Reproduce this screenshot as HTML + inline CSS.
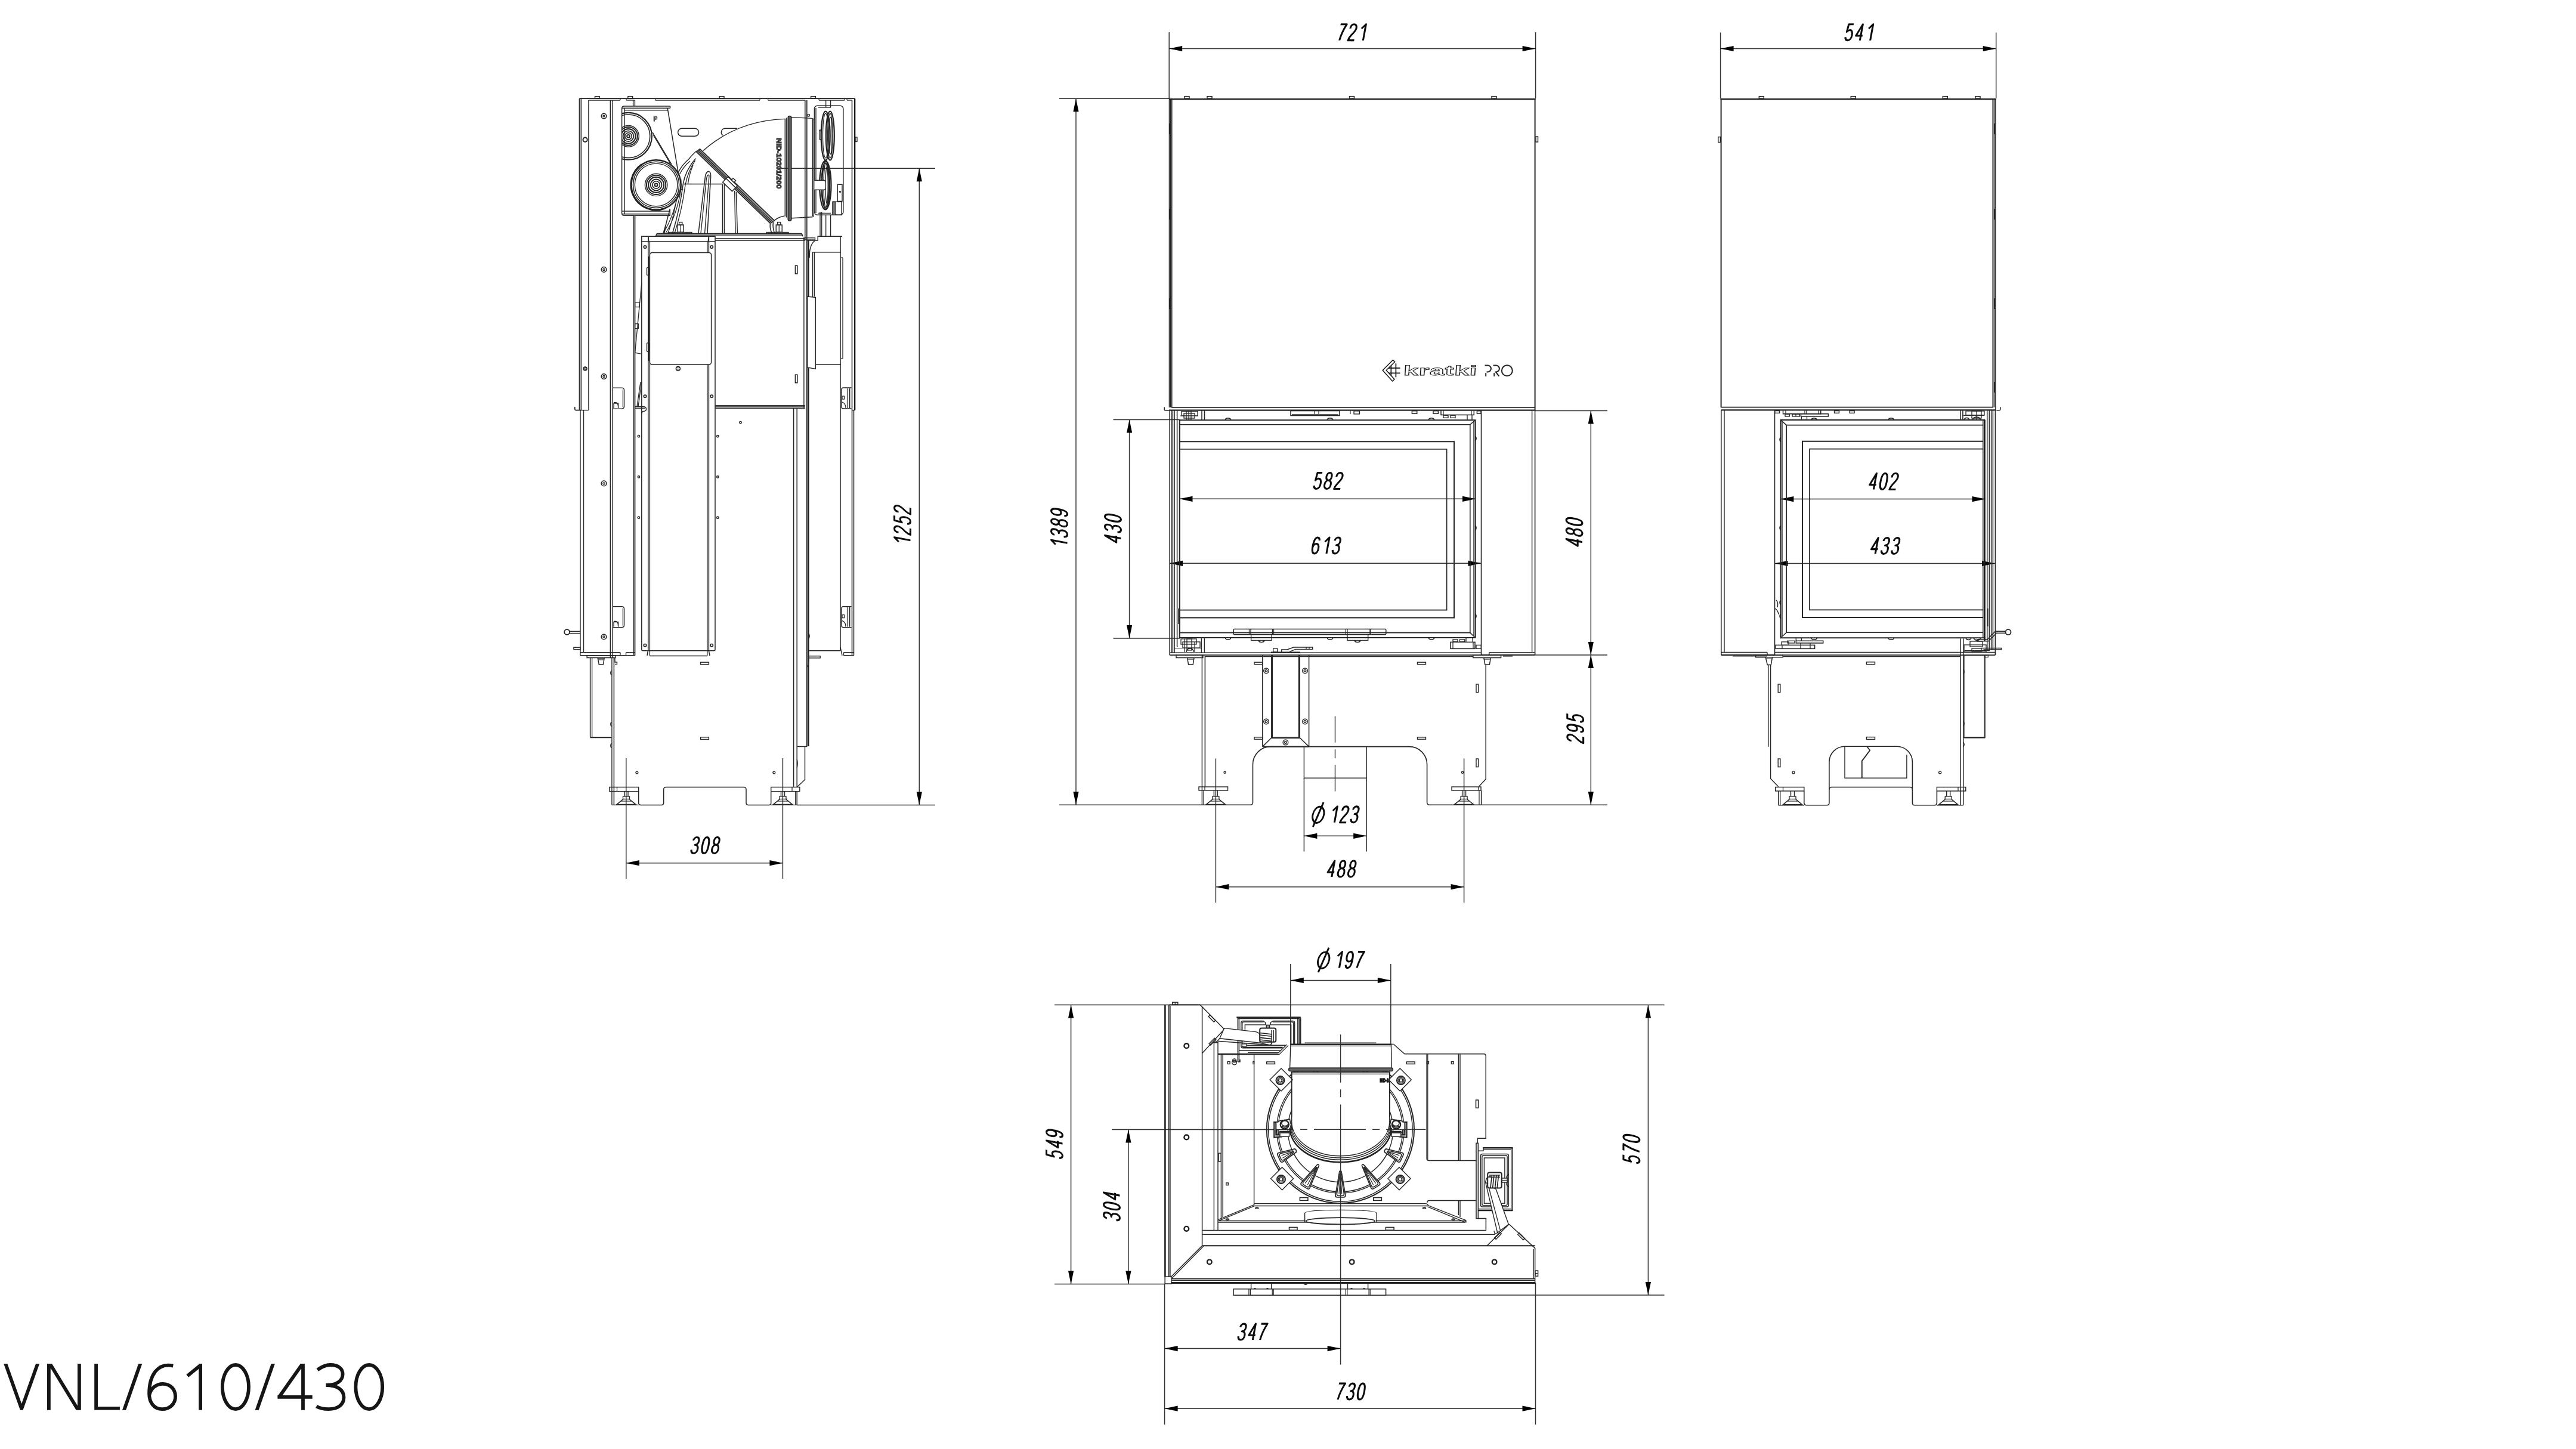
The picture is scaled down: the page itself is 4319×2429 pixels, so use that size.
<!DOCTYPE html>
<html><head><meta charset="utf-8"><title>VNL/610/430</title>
<style>
html,body{margin:0;padding:0;background:#fff}
body{width:4319px;height:2429px;overflow:hidden;font-family:"Liberation Sans",sans-serif}
svg{display:block;position:absolute;left:0;top:0}
svg .dm{stroke:#333;stroke-width:1.5}
svg .ar{fill:#000;stroke:none}
svg .dt{font-family:"Liberation Sans",sans-serif;font-style:italic;fill:#111;text-anchor:middle;stroke:none}
svg .tt{font-family:"Liberation Sans",sans-serif;fill:#111;stroke:#fff;stroke-width:3.4;paint-order:fill stroke}
</style></head><body>
<svg width="4319" height="2429" viewBox="0 0 4319 2429">
<rect x="0" y="0" width="4319" height="2429" fill="#fff" stroke="none"/>
<g fill="none" stroke="#262626" stroke-width="1.5" opacity="0.999">
<g id="p_front">
<path class="dm" d="M1960.2 54L1960.2 165"/>
<path class="dm" d="M2574.6 54L2574.6 165"/>
<path class="dm" d="M1960.2 81.5L2574.6 81.5"/>
<path class="ar" d="M1960.2 81.5L1982.2 76.9L1982.2 86.1Z"/>
<path class="ar" d="M2574.6 81.5L2552.6 86.1L2552.6 76.9Z"/>
<g transform="translate(2269.0 69.2)" fill="none" stroke="#0c0c0c" stroke-width="0.1152" stroke-linejoin="round"><path transform="translate(-26.33 0) matrix(26.900 0 -4.9856 26.900 4.986 -28.450)" d="M0 0 L.39 0 C.25 .30 .15 .62 .11 1"/><path transform="translate(-9.03 0) matrix(26.900 0 -4.9856 26.900 4.986 -28.450)" d="M.01 .26 C.01 .1 .08 0 .20 0 C.31 0 .385 .09 .385 .23 C.385 .40 .28 .50 .15 .67 C.07 .78 .02 .88 0 1 L.39 1"/><path transform="translate(8.27 0) matrix(26.900 0 -4.9856 26.900 4.986 -28.450)" d="M.07 .27 L.30 0 L.30 1"/></g>
<path class="dm" d="M1776 165.2L1960 165.2"/>
<path class="dm" d="M1776 1349.3L2015 1349.3"/>
<path class="dm" d="M1804 165.2L1804 1349.3"/>
<path class="ar" d="M1804 165.2L1808.6 187.2L1799.4 187.2Z"/>
<path class="ar" d="M1804 1349.3L1799.4 1327.3L1808.6 1327.3Z"/>
<g transform="translate(1791.0 883.0) rotate(-90)" fill="none" stroke="#0c0c0c" stroke-width="0.1152" stroke-linejoin="round"><path transform="translate(-35.35 0) matrix(26.900 0 -4.9856 26.900 4.986 -28.450)" d="M.07 .27 L.30 0 L.30 1"/><path transform="translate(-18.05 0) matrix(26.900 0 -4.9856 26.900 4.986 -28.450)" d="M.02 .20 C.05 .07 .11 0 .20 0 C.31 0 .375 .09 .375 .23 C.375 .38 .29 .47 .17 .47 C.30 .47 .39 .57 .39 .72 C.39 .89 .31 1 .19 1 C.09 1 .02 .92 0 .78"/><path transform="translate(-0.75 0) matrix(26.900 0 -4.9856 26.900 4.986 -28.450)" d="M.195 .47 C.09 .47 .03 .37 .03 .235 C.03 .10 .09 0 .195 0 C.30 0 .36 .10 .36 .235 C.36 .37 .30 .47 .195 .47 C.08 .47 0 .58 0 .735 C0 .89 .08 1 .195 1 C.31 1 .39 .89 .39 .735 C.39 .58 .31 .47 .195 .47 Z"/><path transform="translate(16.55 0) matrix(26.900 0 -4.9856 26.900 4.986 -28.450)" d="M.02 .81 C.045 .94 .105 1 .175 1 C.315 1 .38 .80 .38 .45 C.38 .15 .315 0 .185 0 C.075 0 0 .13 0 .31 C0 .49 .075 .61 .185 .61 C.285 .61 .355 .50 .38 .38"/></g>
<path class="dm" d="M1866.5 703.4L1978 703.4"/>
<path class="dm" d="M1866.5 1070L1978 1070"/>
<path class="dm" d="M1893.6 703.4L1893.6 1070"/>
<path class="ar" d="M1893.6 703.4L1898.2 725.4L1889 725.4Z"/>
<path class="ar" d="M1893.6 1070L1889 1048L1898.2 1048Z"/>
<g transform="translate(1881.0 886.0) rotate(-90)" fill="none" stroke="#0c0c0c" stroke-width="0.1152" stroke-linejoin="round"><path transform="translate(-24.68 0) matrix(26.900 0 -4.9856 26.900 4.986 -28.450)" d="M.30 1 L.30 0 L0 .71 L.41 .71"/><path transform="translate(-7.38 0) matrix(26.900 0 -4.9856 26.900 4.986 -28.450)" d="M.02 .20 C.05 .07 .11 0 .20 0 C.31 0 .375 .09 .375 .23 C.375 .38 .29 .47 .17 .47 C.30 .47 .39 .57 .39 .72 C.39 .89 .31 1 .19 1 C.09 1 .02 .92 0 .78"/><path transform="translate(9.93 0) matrix(26.900 0 -4.9856 26.900 4.986 -28.450)" d="M0 .5 C0 .2 0.06 0 0.1925 0 C0.325 0 0.385 .2 0.385 .5 C0.385 .8 0.325 1 0.1925 1 C0.06 1 0 .8 0 .5 Z"/></g>
<path class="dm" d="M2574 688.4L2695 688.4"/>
<path class="dm" d="M2574 1098L2695 1098"/>
<path class="dm" d="M2484 1349.3L2695 1349.3"/>
<path class="dm" d="M2667.3 688.4L2667.3 1098"/>
<path class="ar" d="M2667.3 688.4L2671.9 710.4L2662.7 710.4Z"/>
<path class="ar" d="M2667.3 1098L2662.7 1076L2671.9 1076Z"/>
<g transform="translate(2654.5 892.0) rotate(-90)" fill="none" stroke="#0c0c0c" stroke-width="0.1152" stroke-linejoin="round"><path transform="translate(-24.68 0) matrix(26.900 0 -4.9856 26.900 4.986 -28.450)" d="M.30 1 L.30 0 L0 .71 L.41 .71"/><path transform="translate(-7.38 0) matrix(26.900 0 -4.9856 26.900 4.986 -28.450)" d="M.195 .47 C.09 .47 .03 .37 .03 .235 C.03 .10 .09 0 .195 0 C.30 0 .36 .10 .36 .235 C.36 .37 .30 .47 .195 .47 C.08 .47 0 .58 0 .735 C0 .89 .08 1 .195 1 C.31 1 .39 .89 .39 .735 C.39 .58 .31 .47 .195 .47 Z"/><path transform="translate(9.93 0) matrix(26.900 0 -4.9856 26.900 4.986 -28.450)" d="M0 .5 C0 .2 0.06 0 0.1925 0 C0.325 0 0.385 .2 0.385 .5 C0.385 .8 0.325 1 0.1925 1 C0.06 1 0 .8 0 .5 Z"/></g>
<path class="dm" d="M2667.3 1098L2667.3 1349.3"/>
<path class="ar" d="M2667.3 1098L2671.9 1120L2662.7 1120Z"/>
<path class="ar" d="M2667.3 1349.3L2662.7 1327.3L2671.9 1327.3Z"/>
<g transform="translate(2656.2 1221.0) rotate(-90)" fill="none" stroke="#0c0c0c" stroke-width="0.1152" stroke-linejoin="round"><path transform="translate(-24.75 0) matrix(26.900 0 -4.9856 26.900 4.986 -28.450)" d="M.01 .26 C.01 .1 .08 0 .20 0 C.31 0 .385 .09 .385 .23 C.385 .40 .28 .50 .15 .67 C.07 .78 .02 .88 0 1 L.39 1"/><path transform="translate(-7.45 0) matrix(26.900 0 -4.9856 26.900 4.986 -28.450)" d="M.02 .81 C.045 .94 .105 1 .175 1 C.315 1 .38 .80 .38 .45 C.38 .15 .315 0 .185 0 C.075 0 0 .13 0 .31 C0 .49 .075 .61 .185 .61 C.285 .61 .355 .50 .38 .38"/><path transform="translate(9.85 0) matrix(26.900 0 -4.9856 26.900 4.986 -28.450)" d="M.37 0 L.07 0 L.03 .47 C.08 .40 .14 .36 .21 .36 C.32 .36 .39 .49 .39 .67 C.39 .87 .31 1 .19 1 C.09 1 .02 .93 0 .80"/></g>
<path class="dm" d="M1977.5 836.3L2474 836.3"/>
<path class="ar" d="M1977.5 836.3L1999.5 831.7L1999.5 840.9Z"/>
<path class="ar" d="M2474 836.3L2452 840.9L2452 831.7Z"/>
<g transform="translate(2227.0 821.0)" fill="none" stroke="#0c0c0c" stroke-width="0.1152" stroke-linejoin="round"><path transform="translate(-24.90 0) matrix(26.900 0 -4.9856 26.900 4.986 -28.450)" d="M.37 0 L.07 0 L.03 .47 C.08 .40 .14 .36 .21 .36 C.32 .36 .39 .49 .39 .67 C.39 .87 .31 1 .19 1 C.09 1 .02 .93 0 .80"/><path transform="translate(-7.60 0) matrix(26.900 0 -4.9856 26.900 4.986 -28.450)" d="M.195 .47 C.09 .47 .03 .37 .03 .235 C.03 .10 .09 0 .195 0 C.30 0 .36 .10 .36 .235 C.36 .37 .30 .47 .195 .47 C.08 .47 0 .58 0 .735 C0 .89 .08 1 .195 1 C.31 1 .39 .89 .39 .735 C.39 .58 .31 .47 .195 .47 Z"/><path transform="translate(9.70 0) matrix(26.900 0 -4.9856 26.900 4.986 -28.450)" d="M.01 .26 C.01 .1 .08 0 .20 0 C.31 0 .385 .09 .385 .23 C.385 .40 .28 .50 .15 .67 C.07 .78 .02 .88 0 1 L.39 1"/></g>
<path class="dm" d="M1961 944.3L2483.5 944.3"/>
<path class="ar" d="M1961 944.3L1983 939.7L1983 948.9Z"/>
<path class="ar" d="M2483.5 944.3L2461.5 948.9L2461.5 939.7Z"/>
<g transform="translate(2224.0 929.5)" fill="none" stroke="#0c0c0c" stroke-width="0.1152" stroke-linejoin="round"><path transform="translate(-25.40 0) matrix(26.900 0 -4.9856 26.900 4.986 -28.450)" d="M.365 .19 C.34 .06 .28 0 .21 0 C.07 0 .005 .2 .005 .55 C.005 .85 .07 1 .20 1 C.31 1 .385 .87 .385 .69 C.385 .51 .31 .39 .20 .39 C.10 .39 .03 .50 .005 .62"/><path transform="translate(-8.10 0) matrix(26.900 0 -4.9856 26.900 4.986 -28.450)" d="M.07 .27 L.30 0 L.30 1"/><path transform="translate(9.20 0) matrix(26.900 0 -4.9856 26.900 4.986 -28.450)" d="M.02 .20 C.05 .07 .11 0 .20 0 C.31 0 .375 .09 .375 .23 C.375 .38 .29 .47 .17 .47 C.30 .47 .39 .57 .39 .72 C.39 .89 .31 1 .19 1 C.09 1 .02 .92 0 .78"/></g>
<path class="dm" d="M2186.4 1304L2186.4 1427.5"/>
<path class="dm" d="M2291.2 1304L2291.2 1427.5"/>
<path class="dm" d="M2186.4 1401.3L2291.2 1401.3"/>
<path class="ar" d="M2186.4 1401.3L2208.4 1396.7L2208.4 1405.9Z"/>
<path class="ar" d="M2291.2 1401.3L2269.2 1405.9L2269.2 1396.7Z"/>
<g transform="translate(2256.3 1380.3)" fill="none" stroke="#0c0c0c" stroke-width="0.1152" stroke-linejoin="round"><path transform="translate(-27.00 0) matrix(26.900 0 -4.9856 26.900 4.986 -28.450)" d="M.07 .27 L.30 0 L.30 1"/><path transform="translate(-9.70 0) matrix(26.900 0 -4.9856 26.900 4.986 -28.450)" d="M.01 .26 C.01 .1 .08 0 .20 0 C.31 0 .385 .09 .385 .23 C.385 .40 .28 .50 .15 .67 C.07 .78 .02 .88 0 1 L.39 1"/><path transform="translate(7.60 0) matrix(26.900 0 -4.9856 26.900 4.986 -28.450)" d="M.02 .20 C.05 .07 .11 0 .20 0 C.31 0 .375 .09 .375 .23 C.375 .38 .29 .47 .17 .47 C.30 .47 .39 .57 .39 .72 C.39 .89 .31 1 .19 1 C.09 1 .02 .92 0 .78"/></g>
<g fill="none" stroke="#0c0c0c" stroke-width="2.9"><ellipse cx="0" cy="0" rx="9.3" ry="13.6" transform="translate(2210.3 1365.9) skewX(-11)"/><path d="M2201.3 1386.1L2219.1 1344.9"/></g>
<path class="dm" d="M2038.4 1271.5L2038.4 1513"/>
<path class="dm" d="M2454.6 1271.5L2454.6 1513"/>
<path class="dm" d="M2038.4 1486.7L2454.6 1486.7"/>
<path class="ar" d="M2038.4 1486.7L2060.4 1482.1L2060.4 1491.3Z"/>
<path class="ar" d="M2454.6 1486.7L2432.6 1491.3L2432.6 1482.1Z"/>
<g transform="translate(2249.5 1471.5)" fill="none" stroke="#0c0c0c" stroke-width="0.1152" stroke-linejoin="round"><path transform="translate(-24.77 0) matrix(26.900 0 -4.9856 26.900 4.986 -28.450)" d="M.30 1 L.30 0 L0 .71 L.41 .71"/><path transform="translate(-7.47 0) matrix(26.900 0 -4.9856 26.900 4.986 -28.450)" d="M.195 .47 C.09 .47 .03 .37 .03 .235 C.03 .10 .09 0 .195 0 C.30 0 .36 .10 .36 .235 C.36 .37 .30 .47 .195 .47 C.08 .47 0 .58 0 .735 C0 .89 .08 1 .195 1 C.31 1 .39 .89 .39 .735 C.39 .58 .31 .47 .195 .47 Z"/><path transform="translate(9.83 0) matrix(26.900 0 -4.9856 26.900 4.986 -28.450)" d="M.195 .47 C.09 .47 .03 .37 .03 .235 C.03 .10 .09 0 .195 0 C.30 0 .36 .10 .36 .235 C.36 .37 .30 .47 .195 .47 C.08 .47 0 .58 0 .735 C0 .89 .08 1 .195 1 C.31 1 .39 .89 .39 .735 C.39 .58 .31 .47 .195 .47 Z"/></g>
<path d="M1960 166.3L2574.6 166.3" stroke-width="2.6"/>
<path d="M1960.4 166L1960.4 683" stroke-width="1.4"/>
<path d="M1962.6 166L1962.6 683" stroke-width="1.8" stroke="#222"/>
<path d="M1964.8 166L1964.8 683" stroke-width="1.42"/>
<path d="M2573.6 166L2573.6 688" stroke-width="2.0"/>
<path d="M1964 682.8L2573.6 682.8" stroke-width="1.8"/>
<path d="M1960 687.6L2573.6 687.6" stroke-width="2.2"/>
<rect x="1986" y="161.6" width="8" height="3.4" stroke-width="1.42"/>
<rect x="2024" y="161.6" width="8" height="3.4" stroke-width="1.42"/>
<rect x="2262.5" y="161.6" width="8" height="3.4" stroke-width="1.42"/>
<rect x="2501" y="161.6" width="8" height="3.4" stroke-width="1.42"/>
<rect x="2575" y="229" width="3.5" height="9" stroke-width="1.42"/>
<path d="M1952.3 682.5V686.5Q1952.3 688 1954 688H1960" stroke-width="1.6"/>
<path d="M1961.5 207L1961.5 225" stroke-width="1.22"/>
<path d="M1961.5 350L1961.5 368" stroke-width="1.22"/>
<path d="M1961.5 500L1961.5 518" stroke-width="1.22"/>
<path d="M1961.1 688L1961.1 1094" stroke-width="1.5"/>
<path d="M1963.8 688L1963.8 1094" stroke-width="1.52"/>
<path d="M1966.4 688L1966.4 1094" stroke-width="1.52"/>
<path d="M1969.2 688L1969.2 1094" stroke-width="1.42"/>
<path d="M1973.6 688L1973.6 1085" stroke-width="1.52"/>
<path d="M1977.8 704L1977.8 1069" stroke-width="2.2"/>
<path d="M1977.8 704.2L2473.6 704.2L2473.6 1069L1977.8 1069" stroke-width="2.0"/>
<path d="M1978.5 711.8L2464.8 711.8L2464.8 1060.6L1978.5 1060.6" stroke-width="1.6"/>
<path d="M2464.8 711.8L2473.6 704.2"/>
<path d="M2464.8 1060.6L2473.6 1069"/>
<path d="M2471 706L2471 1067" stroke-width="1.42"/>
<path d="M1979 740.2L2438 740.2L2438 1035.5L1979 1035.5" stroke-width="2.0"/>
<path d="M1979 753L2425.6 753L2425.6 1022.6L1979 1022.6" stroke-width="1.7"/>
<path d="M1975.8 1020L1975.8 1046" stroke-width="1.42"/>
<path d="M2473.6 731 q3 4 0 8" stroke-width="1.52"/>
<path d="M2473.6 881 q3 4 0 8" stroke-width="1.52"/>
<path d="M2473.6 1029 q3 4 0 8" stroke-width="1.52"/>
<path d="M2054 704 q1 -3 4 -3 h2 q3 0 4 3" stroke-width="1.4"/>
<path d="M2054 1069 q1 3 4 3 h2 q3 0 4 -3" stroke-width="1.4"/>
<path d="M2225 704 q1 -3 4 -3 h2 q3 0 4 3" stroke-width="1.4"/>
<path d="M2225 1069 q1 3 4 3 h2 q3 0 4 -3" stroke-width="1.4"/>
<path d="M2395 704 q1 -3 4 -3 h2 q3 0 4 3" stroke-width="1.4"/>
<path d="M2395 1069 q1 3 4 3 h2 q3 0 4 -3" stroke-width="1.4"/>
<path d="M2015 688L2015 704" stroke-width="1.52"/>
<path d="M2019.5 688L2019.5 704" stroke-width="1.52"/>
<rect x="1981" y="689.5" width="27" height="7.5" stroke-width="1.32"/>
<rect x="1985" y="693" width="18" height="8" stroke-width="1.32"/>
<rect x="1989" y="689.5" width="8" height="14.5" stroke-width="1.32"/>
<path d="M1979 697.2L2009 697.2" stroke-width="1.22"/>
<path d="M1993 689L1993 704" stroke-width="1.22"/>
<rect x="2164" y="688.6" width="82" height="8" stroke-width="1.52"/>
<path d="M2166 694.5L2244 694.5" stroke-width="1.22"/>
<path d="M2204 689L2204 695" stroke-width="1.22"/>
<path d="M2211 689L2211 695" stroke-width="1.22"/>
<path d="M2264 688L2264 694" stroke-width="1.22"/>
<rect x="2270" y="689" width="9.5" height="5" stroke-width="1.32"/>
<rect x="2367.4" y="688.8" width="8.4" height="4.6" stroke-width="1.42"/>
<rect x="2403" y="688.8" width="8.4" height="4.6" stroke-width="1.42"/>
<rect x="2476.4" y="688.8" width="6.6" height="4.6" stroke-width="1.42"/>
<path d="M2416 688L2416 695.6L2471.3 695.6L2471.3 688" stroke-width="1.52"/>
<path d="M2420 688L2420 695.6" stroke-width="1.22"/>
<path d="M2467 688L2467 695.6" stroke-width="1.22"/>
<rect x="2420" y="696.3" width="8" height="4.1" stroke-width="1.32"/>
<rect x="2432" y="696.3" width="8" height="4.1" stroke-width="1.32"/>
<path d="M2460 695.6L2460 704" stroke-width="1.42"/>
<path d="M2468 695.6L2468 704" stroke-width="1.42"/>
<path d="M2483.5 688L2483.5 1098" stroke-width="1.6"/>
<path d="M2568.6 688L2568.6 1093.6" stroke-width="1.4"/>
<path d="M2573.6 688L2573.6 1098" stroke-width="1.6"/>
<path d="M2496.7 1093.6L2573.6 1093.6" stroke-width="1.4"/>
<path d="M2496.7 1093.6L2496.7 1098" stroke-width="1.52"/>
<path d="M2483.5 1098L2573.6 1098" stroke-width="2.2"/>
<path d="M2520 1100L2536 1100" stroke-width="1.22"/>
<path d="M1961.1 1094.2L2483.5 1094.2" stroke-width="1.5"/>
<path d="M1961.1 1098.2L2483.5 1098.2" stroke-width="1.7"/>
<path d="M2020 1100.6L2470 1100.6" stroke-width="1.22"/>
<path d="M1961.1 1094L1961.1 1098.2" stroke-width="1.5"/>
<path d="M2014.4 1069L2014.4 1094" stroke-width="1.42"/>
<path d="M2019.4 1069L2019.4 1094" stroke-width="1.42"/>
<rect x="2068.2" y="1054.6" width="255.6" height="9.2" rx="1.5" stroke-width="1.5"/>
<path d="M2094.4 1054.6L2094.4 1063.8" stroke-width="1.22"/>
<path d="M2097 1054.6L2097 1063.8" stroke-width="1.22"/>
<path d="M2133.4 1054.6L2133.4 1063.8" stroke-width="1.22"/>
<path d="M2135.6 1054.6L2135.6 1063.8" stroke-width="1.22"/>
<path d="M2256.4 1054.6L2256.4 1063.8" stroke-width="1.22"/>
<path d="M2259 1054.6L2259 1063.8" stroke-width="1.22"/>
<path d="M2295.6 1054.6L2295.6 1063.8" stroke-width="1.22"/>
<path d="M2297.6 1054.6L2297.6 1063.8" stroke-width="1.22"/>
<path d="M2097.6 1063.8L2097.6 1073.4L2132.2 1073.4L2132.2 1063.8" stroke-width="1.4"/>
<path d="M2259 1063.8L2259 1073.4L2293.7 1073.4L2293.7 1063.8" stroke-width="1.4"/>
<path d="M2110 1073.4q1 3 4 3h2q3 0 4 -3" stroke-width="1.52"/>
<path d="M2271 1073.4q1 3 4 3h2q3 0 4 -3" stroke-width="1.52"/>
<rect x="1980" y="1071" width="26" height="9" stroke-width="1.32"/>
<rect x="1983" y="1076" width="29" height="10" stroke-width="1.32"/>
<rect x="1990" y="1071" width="8" height="19" stroke-width="1.32"/>
<path d="M1968 1086.5L2014 1086.5" stroke-width="1.22"/>
<path d="M1986 1071L1986 1093" stroke-width="1.22"/>
<path d="M2003 1076L2003 1093" stroke-width="1.22"/>
<path d="M1989 1093q1 -6 6 -6q5 0 7 6" stroke-width="1.42"/>
<rect x="2134.7" y="1087" width="7.1" height="6" stroke-width="1.32"/>
<path d="M2131 1093.2L2180 1093.2" stroke-width="1.42"/>
<path d="M2148.8 1093L2148.8 1089L2158 1089L2169 1085L2200.7 1085L2200.7 1088.4L2172 1088.4L2162 1092.6" stroke-width="1.42"/>
<path d="M2190 1085L2190 1088.4" stroke-width="1.22"/>
<path d="M2195 1085L2195 1088.4" stroke-width="1.22"/>
<rect x="2436" y="1072" width="8" height="3.8" stroke-width="1.32"/>
<rect x="2447.4" y="1072" width="8.4" height="3.8" stroke-width="1.32"/>
<rect x="2432" y="1076.4" width="41" height="11" stroke-width="1.52"/>
<path d="M2436 1076.4L2436 1087.4" stroke-width="1.22"/>
<path d="M2470 1076.4L2470 1087.4" stroke-width="1.22"/>
<path d="M2458 1069L2458 1076.4" stroke-width="1.32"/>
<path d="M2469 1069L2469 1076.4" stroke-width="1.32"/>
<rect x="2475" y="1081.4" width="8.3" height="6" stroke-width="1.32"/>
<rect x="1972" y="1098.4" width="44.9" height="4.2" stroke-width="1.42"/>
<path d="M1990.6 1102.6L1992.6 1114L2000.2 1114L2002 1102.6" stroke-width="1.52"/>
<path d="M1991 1105L2001.6 1105" stroke-width="1.22"/>
<rect x="2469.8" y="1098.4" width="46.8" height="4.2" stroke-width="1.42"/>
<path d="M2487.8 1102.6L2489.8 1114L2497.4 1114L2499.3 1102.6" stroke-width="1.52"/>
<path d="M2488.3 1105L2499 1105" stroke-width="1.22"/>
<path d="M2015.4 1098.4L2015.4 1349" stroke-width="1.4"/>
<path d="M2020.4 1100L2020.4 1319" stroke-width="1.52"/>
<path d="M2491.2 1114L2491.2 1306L2479.5 1318.4" stroke-width="1.5"/>
<path d="M2016 1349.3H2096.5A4 4 0 0 0 2100.5 1345.3V1281.4A29.8 29.8 0 0 1 2130.3 1251.6H2362.8A29.8 29.8 0 0 1 2392.6 1281.4V1345.3A4 4 0 0 0 2396.6 1349.3H2483.6" stroke-width="1.6"/>
<path d="M2483.6 1325L2483.6 1349.3" stroke-width="1.52"/>
<path d="M2480 1325L2480 1349.3" stroke-width="1.22"/>
<path d="M2018 1325L2018 1349.3" stroke-width="1.22"/>
<path d="M2116.8 1098.4L2116.8 1251.6" stroke-width="1.5"/>
<path d="M2132.6 1098.4L2132.6 1236.6" stroke-width="3.0" stroke="#222"/>
<path d="M2178.4 1098.4L2178.4 1236.6" stroke-width="3.0" stroke="#222"/>
<path d="M2194.6 1098.4L2194.6 1251.6" stroke-width="1.5"/>
<path d="M2131.2 1236.8L2179.8 1236.8" stroke-width="2.6" stroke="#222"/>
<path d="M2116.8 1251.6L2194.6 1251.6" stroke-width="1.8"/>
<path d="M2131.6 1237L2116.8 1251.6"/>
<path d="M2179.6 1237L2194.6 1251.6"/>
<circle cx="2123" cy="1124.4" r="4.3" stroke-width="1.42"/>
<circle cx="2123" cy="1124.4" r="1.8" stroke-width="1.4"/>
<circle cx="2188" cy="1124.4" r="4.3" stroke-width="1.42"/>
<circle cx="2188" cy="1124.4" r="1.8" stroke-width="1.4"/>
<circle cx="2123" cy="1209.6" r="4.3" stroke-width="1.42"/>
<circle cx="2123" cy="1209.6" r="1.8" stroke-width="1.4"/>
<circle cx="2188" cy="1209.6" r="4.3" stroke-width="1.42"/>
<circle cx="2188" cy="1209.6" r="1.8" stroke-width="1.4"/>
<circle cx="2155.4" cy="1244.6" r="4.3" stroke-width="1.42"/>
<circle cx="2155.4" cy="1244.6" r="1.8" stroke-width="1.4"/>
<rect x="2103" y="1110.2" width="13.8" height="3.4" stroke-width="1.42"/>
<rect x="2103" y="1235.8" width="13.8" height="3.4" stroke-width="1.42"/>
<rect x="2376.5" y="1110.2" width="14" height="3.4" stroke-width="1.42"/>
<rect x="2376.5" y="1235.8" width="14" height="3.4" stroke-width="1.42"/>
<rect x="2475" y="1147" width="3.6" height="13.6" stroke-width="1.42"/>
<rect x="2475" y="1272" width="3.6" height="13.6" stroke-width="1.42"/>
<circle cx="2053.6" cy="1294.8" r="1.6" stroke-width="1.32"/>
<circle cx="2452" cy="1294.8" r="1.6" stroke-width="1.32"/>
<path d="M2186.4 1251.2L2186.4 1304.3" stroke-width="1.4"/>
<path d="M2291.2 1251.2L2291.2 1304.3" stroke-width="1.4"/>
<path d="M2186.4 1304.3L2291.2 1304.3" stroke-width="1.4"/>
<path d="M2238.5 1200.5L2238.5 1326.4" stroke-width="1.4" stroke="#333" stroke-dasharray="44.2 11.5 15 11"/>
<rect x="2010" y="1319" width="48.6" height="6" stroke-width="1.4"/>
<path d="M2035.4 1325L2035.4 1335" stroke-width="1.42"/>
<path d="M2041.4 1325L2041.4 1335" stroke-width="1.42"/>
<rect x="2032.9" y="1335" width="11" height="4.5" stroke-width="1.32"/>
<path d="M2033.4 1339.5L2022.4 1348.6L2054.4 1348.6L2043.4 1339.5" stroke-width="1.52"/>
<path d="M2029.4 1343L2047.4 1343" stroke-width="1.22"/>
<rect x="2434" y="1319" width="49" height="6" stroke-width="1.4"/>
<path d="M2451.6 1325L2451.6 1335" stroke-width="1.42"/>
<path d="M2457.6 1325L2457.6 1335" stroke-width="1.42"/>
<rect x="2449.1" y="1335" width="11" height="4.5" stroke-width="1.32"/>
<path d="M2449.6 1339.5L2438.6 1348.6L2470.6 1348.6L2459.6 1339.5" stroke-width="1.52"/>
<path d="M2445.6 1343L2463.6 1343" stroke-width="1.22"/>
<path d="M2020 1319L2020 1325" stroke-width="1.22"/>
<path d="M2478.5 1319L2478.5 1325" stroke-width="1.22"/>
<path d="M2332.3 609.2L2332.3 632.4" stroke-width="1.7" stroke="#111"/>
<path d="M2340.4 609.2L2340.4 632.4" stroke-width="1.7" stroke="#111"/>
<path d="M2323.7 617L2347.5 617" stroke-width="1.7" stroke="#111"/>
<path d="M2323.7 625.4L2347.5 625.4" stroke-width="1.7" stroke="#111"/>
<path d="M2335.4 603.6L2318.2 620.8L2334.6 639L2338 635.8L2324.2 620.8L2338.6 606.6Z" stroke-width="1.42" stroke="#111" fill="#fff"/>
<text transform="translate(2352.6 629.4) skewX(-4) scale(1.96 1)" style="font-family:'Liberation Sans',sans-serif;font-weight:bold;font-size:23px;fill:#fff;stroke:#111;stroke-width:1.25;vector-effect:non-scaling-stroke;letter-spacing:.3px">kratki</text>
<path d="M2489.6 612.6H2494.5A5.4 5.4 0 0 1 2494.5 623.4H2492.5M2491.2 625.2V631" stroke-width="2.0" stroke="#222"/>
<path d="M2503.6 612.6H2508.5A5.4 5.4 0 0 1 2508.5 623.4H2506.5M2505.2 625.2V631M2508.2 623.8L2513.2 630.6" stroke-width="2.0" stroke="#222"/>
<circle cx="2526.8" cy="621.3" r="9" stroke="#222" stroke-width="2.0"/>
</g>
<g id="p_left">
<path class="dm" d="M1049.8 1271L1049.8 1473"/>
<path class="dm" d="M1312.4 1271L1312.4 1473"/>
<path class="dm" d="M1049.8 1446.7L1312.4 1446.7"/>
<path class="ar" d="M1049.8 1446.7L1071.8 1442.1L1071.8 1451.3Z"/>
<path class="ar" d="M1312.4 1446.7L1290.4 1451.3L1290.4 1442.1Z"/>
<g transform="translate(1182.5 1432.0)" fill="none" stroke="#0c0c0c" stroke-width="0.1152" stroke-linejoin="round"><path transform="translate(-24.60 0) matrix(26.900 0 -4.9856 26.900 4.986 -28.450)" d="M.02 .20 C.05 .07 .11 0 .20 0 C.31 0 .375 .09 .375 .23 C.375 .38 .29 .47 .17 .47 C.30 .47 .39 .57 .39 .72 C.39 .89 .31 1 .19 1 C.09 1 .02 .92 0 .78"/><path transform="translate(-7.30 0) matrix(26.900 0 -4.9856 26.900 4.986 -28.450)" d="M0 .5 C0 .2 0.06 0 0.1925 0 C0.325 0 0.385 .2 0.385 .5 C0.385 .8 0.325 1 0.1925 1 C0.06 1 0 .8 0 .5 Z"/><path transform="translate(10.00 0) matrix(26.900 0 -4.9856 26.900 4.986 -28.450)" d="M.195 .47 C.09 .47 .03 .37 .03 .235 C.03 .10 .09 0 .195 0 C.30 0 .36 .10 .36 .235 C.36 .37 .30 .47 .195 .47 C.08 .47 0 .58 0 .735 C0 .89 .08 1 .195 1 C.31 1 .39 .89 .39 .735 C.39 .58 .31 .47 .195 .47 Z"/></g>
<path class="dm" d="M1310 282.2L1568 282.2"/>
<path class="dm" d="M1336 1349.4L1568 1349.4"/>
<path class="dm" d="M1541.3 282.2L1541.3 1349.4"/>
<path class="ar" d="M1541.3 282.2L1545.9 304.2L1536.7 304.2Z"/>
<path class="ar" d="M1541.3 1349.4L1536.7 1327.4L1545.9 1327.4Z"/>
<g transform="translate(1528.0 878.0) rotate(-90)" fill="none" stroke="#0c0c0c" stroke-width="0.1152" stroke-linejoin="round"><path transform="translate(-35.80 0) matrix(26.900 0 -4.9856 26.900 4.986 -28.450)" d="M.07 .27 L.30 0 L.30 1"/><path transform="translate(-18.50 0) matrix(26.900 0 -4.9856 26.900 4.986 -28.450)" d="M.01 .26 C.01 .1 .08 0 .20 0 C.31 0 .385 .09 .385 .23 C.385 .40 .28 .50 .15 .67 C.07 .78 .02 .88 0 1 L.39 1"/><path transform="translate(-1.20 0) matrix(26.900 0 -4.9856 26.900 4.986 -28.450)" d="M.37 0 L.07 0 L.03 .47 C.08 .40 .14 .36 .21 .36 C.32 .36 .39 .49 .39 .67 C.39 .87 .31 1 .19 1 C.09 1 .02 .93 0 .80"/><path transform="translate(16.10 0) matrix(26.900 0 -4.9856 26.900 4.986 -28.450)" d="M.01 .26 C.01 .1 .08 0 .20 0 C.31 0 .385 .09 .385 .23 C.385 .40 .28 .50 .15 .67 C.07 .78 .02 .88 0 1 L.39 1"/></g>
<path d="M971.4 165.2L1433.3 165.2" stroke-width="1.8"/>
<path d="M986.9 167.9L1040 167.9" stroke-width="1.52"/>
<path d="M1050 167.9L1064.5 167.9" stroke-width="1.52"/>
<path d="M1098.5 167.9L1274 167.9" stroke-width="1.52"/>
<path d="M1287.7 167.9L1349.8 167.9" stroke-width="1.52"/>
<path d="M1373 167.9L1416 167.9" stroke-width="1.52"/>
<path d="M1420 167.9L1428.5 167.9" stroke-width="1.52"/>
<path d="M1040 165.2L1040 167.9" stroke-width="1.22"/>
<path d="M1050 165.2L1050 167.9" stroke-width="1.22"/>
<path d="M1098.5 165.2L1098.5 167.9" stroke-width="1.22"/>
<path d="M1274 165.2L1274 167.9" stroke-width="1.22"/>
<path d="M1287.7 165.2L1287.7 167.9" stroke-width="1.22"/>
<path d="M1373 165.2L1373 167.9" stroke-width="1.22"/>
<path d="M1416 165.2L1416 167.9" stroke-width="1.22"/>
<path d="M1420 165.2L1420 167.9" stroke-width="1.22"/>
<rect x="997.5" y="161.6" width="7.8" height="3.4" stroke-width="1.32"/>
<rect x="1052.8" y="161.6" width="7.8" height="3.4" stroke-width="1.32"/>
<rect x="1206.2" y="161.6" width="7.8" height="3.4" stroke-width="1.32"/>
<rect x="1359.6" y="161.6" width="7.8" height="3.4" stroke-width="1.32"/>
<path d="M971.4 165.2L971.4 687.6" stroke-width="1.5"/>
<path d="M974.3 165.2L974.3 687.6" stroke-width="1.52"/>
<path d="M986.9 168L986.9 687.6" stroke-width="1.4"/>
<path d="M974.3 687.6L986.9 687.6" stroke-width="1.4"/>
<path d="M974.3 687.6H965.5Q963.8 687.6 963.8 686V682" stroke-width="1.6"/>
<path d="M973 687.6L973 1093.8" stroke-width="1.4"/>
<path d="M978.5 687.6L978.5 1093.8" stroke-width="1.4"/>
<path d="M1023.4 168L1023.4 1102" stroke-width="1.6"/>
<path d="M1027.3 168L1027.3 1102" stroke-width="1.5"/>
<path d="M1025.9 1102L1025.9 1349.4" stroke-width="1.4"/>
<path d="M1062.6 361L1062.6 1098.8" stroke-width="1.52"/>
<path d="M1064.6 361L1064.6 1098.8" stroke-width="1.52"/>
<path d="M1061.6 168L1061.6 178" stroke-width="1.42"/>
<path d="M1064.4 168L1064.4 178" stroke-width="1.42"/>
<path d="M1433.1 165.2L1433.1 687.6" stroke-width="2.4" stroke="#1a1a1a"/>
<path d="M1428.5 168L1428.5 1098.8" stroke-width="1.5"/>
<path d="M1431.5 687.6L1431.5 1098.8" stroke-width="1.52"/>
<path d="M1428.5 687.6L1433.3 687.6" stroke-width="1.42"/>
<path d="M1349.8 168L1349.8 403" stroke-width="1.52"/>
<path d="M1352.8 168L1352.8 1251.5" stroke-width="1.6"/>
<path d="M1355.4 403L1355.4 1251" stroke-width="2.4" stroke="#1a1a1a"/>
<path d="M1384.7 168L1384.7 180" stroke-width="1.32"/>
<path d="M1392.6 168L1392.6 180" stroke-width="1.32"/>
<path d="M1375 355L1375 396" stroke-width="1.32"/>
<path d="M1377.7 355L1377.7 396" stroke-width="1.32"/>
<path d="M1384.7 360.3L1384.7 396" stroke-width="1.32"/>
<path d="M1392.6 360.3L1392.6 396" stroke-width="1.32"/>
<rect x="1434" y="230" width="3" height="7.5" stroke-width="1.32"/>
<circle cx="1012.5" cy="194.6" r="4.3" stroke-width="1.52"/>
<circle cx="1012.5" cy="194.6" r="1.6" stroke-width="1.32"/>
<circle cx="1012.5" cy="451.9" r="4.3" stroke-width="1.52"/>
<circle cx="1012.5" cy="451.9" r="1.6" stroke-width="1.32"/>
<circle cx="1012.5" cy="631.1" r="4.3" stroke-width="1.52"/>
<circle cx="1012.5" cy="631.1" r="1.6" stroke-width="1.32"/>
<circle cx="1012.5" cy="810.4" r="4.3" stroke-width="1.52"/>
<circle cx="1012.5" cy="810.4" r="1.6" stroke-width="1.32"/>
<circle cx="1012.5" cy="1067.5" r="4.3" stroke-width="1.52"/>
<circle cx="1012.5" cy="1067.5" r="1.6" stroke-width="1.32"/>
<circle cx="981.1" cy="234.2" r="3.6" stroke-width="2.0"/>
<circle cx="981.1" cy="617.9" r="3" stroke-width="1.52"/>
<circle cx="981.1" cy="617.9" r="1.4" stroke-width="1.22"/>
<path d="M1123.6 178H1046.6Q1042.6 178 1042.6 182V357.3Q1042.6 361.3 1046.6 361.3H1123.3V350" stroke-width="1.5"/>
<path d="M1047 181L1047 358.8" stroke-width="1.42"/>
<path d="M1042.6 181.3L1123.6 181.3" stroke-width="1.42"/>
<path d="M1123.6 178L1123.6 181.3" stroke-width="1.42"/>
<path d="M1047 184.8L1119.2 184.8" stroke-width="1.32"/>
<path d="M1042.6 354L1123.3 354" stroke-width="1.42"/>
<path d="M1042.6 358.8L1123.3 358.8" stroke-width="1.42"/>
<path d="M1119.2 181.3L1137.2 290" stroke-width="1.52"/>
<path d="M1094 221.8L1126 275.6" stroke-width="1.52"/>
<path d="M1095.4 226.4L1123.4 273.4" stroke-width="1.42"/>
<clipPath id="cpf"><rect x="1042.6" y="170" width="120" height="200"/></clipPath><g clip-path="url(#cpf)">
<circle cx="1053.5" cy="228.3" r="39.4" stroke-width="2.2"/>
<circle cx="1053.5" cy="228.3" r="36.3" stroke-width="1.52"/>
<circle cx="1053.5" cy="228.3" r="17.8" stroke-width="1.4"/>
<circle cx="1053.5" cy="228.3" r="15.4" stroke-width="2.0"/>
<circle cx="1053.5" cy="228.3" r="12.2" stroke-width="2.2"/>
<circle cx="1053.5" cy="228.3" r="8.9" stroke-width="1.8"/>
<circle cx="1053.5" cy="228.3" r="5.7" stroke-width="1.6"/>
<circle cx="1053.5" cy="228.3" r="2.4" stroke-width="2.0"/>
</g>
<circle cx="1100.1" cy="309.9" r="41.6" stroke-width="2.6"/>
<circle cx="1100.1" cy="309.9" r="38.6" stroke-width="1.52"/>
<circle cx="1100.1" cy="309.9" r="35.8" stroke-width="1.42"/>
<path d="M1075.8 275.2A42.3 42.3 0 0 0 1114.6 349.6" stroke-width="2.6" stroke="#222"/>
<circle cx="1100.1" cy="309.9" r="18.7" stroke-width="1.4"/>
<circle cx="1100.1" cy="309.9" r="16.2" stroke-width="2.0"/>
<circle cx="1100.1" cy="309.9" r="13" stroke-width="2.2"/>
<circle cx="1100.1" cy="309.9" r="9.4" stroke-width="1.8"/>
<circle cx="1100.1" cy="309.9" r="6.2" stroke-width="1.6"/>
<circle cx="1100.1" cy="309.9" r="2.4" stroke-width="2.0"/>
<text x="1095.4" y="202.6" style="font-family:'Liberation Sans',sans-serif;font-weight:bold;font-size:10px;fill:#fff;stroke:#333;stroke-width:0.9">P</text>
<rect x="1136.6" y="215.3" width="35" height="13" rx="6.5" stroke-width="1.52"/>
<path d="M1236 215.3H1215.6A6.5 6.5 0 0 0 1212 227" stroke-width="1.52"/>
<path d="M1179 252.6Q1236 202 1316.5 199.4" stroke-width="1.4"/>
<path d="M1168 253Q1160 260 1155.5 266" stroke-width="1.42"/>
<path d="M1315.4 362Q1303 364 1296.6 371.6" stroke-width="1.4"/>
<path d="M1316.2 199.4L1316.2 362.4" stroke-width="1.32"/>
<path d="M1318.4 197.5L1318.4 364.5" stroke-width="1.32"/>
<rect x="1321.2" y="194.6" width="5.6" height="175.6" rx="2.8" stroke-width="1.52" fill="#5a5a5a"/>
<path d="M1326.8 196.6L1361 198.4Q1364.4 198.6 1364.4 202V360Q1364.4 363.6 1361 363.8L1326.8 365.8" stroke-width="1.4"/>
<path d="M1362.4 200L1362.4 362" stroke-width="1.22"/>
<text transform="translate(1301.8 231.6) rotate(90) scale(1.075 1)" style="font-family:'Liberation Sans',sans-serif;font-weight:bold;font-size:11.6px;fill:#777;stroke:#222;stroke-width:1">NID-10201/200</text>
<path d="M1173.4 249.6L1299 370.4L1291.6 374.6L1167.6 254.6Z" stroke-width="0.5" fill="#9a9a9a"/>
<path d="M1173.4 249.6L1299 370.4" stroke-width="1.5"/>
<path d="M1171.2 251.4L1296.4 372.6" stroke-width="1.32"/>
<path d="M1169.6 253L1294.4 374" stroke-width="1.32"/>
<path d="M1167.6 254.6L1291.6 374.6" stroke-width="1.5"/>
<path d="M1173.4 249.6L1167.6 254.6" stroke-width="1.52"/>
<g transform="translate(1224 308.4) rotate(44)"><rect x="-11" y="-6.4" width="22" height="12.8" style="fill:#fff"/><path d="M-11 -2H11"/><rect x="-3" y="-10.6" width="6" height="4.2" style="fill:#fff"/></g>
<path d="M1291.6 374.6Q1290 381 1294 391M1296.5 372.4Q1295 381 1298.6 391" stroke-width="1.52"/>
<path d="M1137.2 289Q1143 277 1155.5 266" stroke-width="1.52"/>
<path d="M1139.6 292Q1146 279 1157 270" stroke-width="1.32"/>
<path d="M1166.4 265.6Q1149 286 1145.4 308Q1140 350 1127.6 391" stroke-width="1.52"/>
<path d="M1165.6 268.8Q1153 288 1149 310Q1143.6 352 1131 391" stroke-width="1.32"/>
<path d="M1162 277Q1156 290 1153.4 308" stroke-width="1.32"/>
<path d="M1141.6 300V318H1145.4" stroke-width="1.32"/>
<path d="M1138 318Q1131 360 1112 391M1141.6 318Q1135 360 1116 391M1135 330Q1130 362 1120 391" stroke-width="1.32"/>
<path d="M1123.3 350Q1118 372 1112 391M1120 361Q1116 378 1114 391" stroke-width="1.32"/>
<path d="M1171 391L1182.4 296Q1184 287 1188.6 287.4Q1192 288 1191.6 297L1186 391" stroke-width="1.52"/>
<path d="M1175 391L1184.4 300Q1186 291 1189 294L1181.6 391" stroke-width="1.32"/>
<path d="M1146.8 308.5L1211.6 308.5" stroke-width="1.42"/>
<path d="M1211.4 308.5L1211.4 391.3" stroke-width="1.42"/>
<path d="M1214.4 308.5L1214.4 391.3" stroke-width="1.42"/>
<path d="M1231.7 320L1233 391.3" stroke-width="1.42"/>
<path d="M1234.4 322L1236.4 391.3" stroke-width="1.42"/>
<rect x="1136.2" y="377" width="10" height="12.2" stroke-width="1.42"/>
<rect x="1138.6" y="372.5" width="5.2" height="4.5" stroke-width="1.32"/>
<path d="M1141.2 377L1141.2 389.2" stroke-width="1.22"/>
<rect x="1301.2" y="377" width="10" height="12.2" stroke-width="1.42"/>
<rect x="1303.6" y="372.5" width="5.2" height="4.5" stroke-width="1.32"/>
<path d="M1306.2 377L1306.2 389.2" stroke-width="1.22"/>
<path d="M1099.5 396.2L1101.5 391.4H1344L1346 396.2" stroke-width="1.52"/>
<path d="M1099.5 394L1346 394" stroke-width="1.32"/>
<rect x="1120" y="389.4" width="40" height="2" stroke-width="1.22"/>
<rect x="1285" y="389.4" width="37" height="2" stroke-width="1.22"/>
<rect x="1365.4" y="177.3" width="48.4" height="183" rx="5" stroke-width="1.5"/>
<path d="M1368 181L1368 357" stroke-width="1.32"/>
<path d="M1372 180L1393 180" stroke-width="1.32"/>
<path d="M1372 357.4L1393 357.4" stroke-width="1.32"/>
<ellipse cx="1384.2" cy="227.5" rx="7.5" ry="41" stroke="#222" stroke-width="2.2"/>
<ellipse cx="1384.2" cy="227.5" rx="4.7" ry="37.5" stroke-width="1.32"/>
<ellipse cx="1391.8" cy="227.5" rx="7" ry="41" stroke="#222" stroke-width="2.2"/>
<ellipse cx="1391.8" cy="227.5" rx="4.2" ry="37.5" stroke-width="1.32"/>
<ellipse cx="1383.8" cy="310.5" rx="9.7" ry="41" stroke="#222" stroke-width="2.2"/>
<ellipse cx="1383.8" cy="310.5" rx="6.9" ry="37.5" stroke-width="1.32"/>
<ellipse cx="1384.6" cy="310.5" rx="6.4" ry="40" stroke="#222" stroke-width="2.2"/>
<ellipse cx="1384.6" cy="310.5" rx="3.6" ry="36.5" stroke-width="1.32"/>
<ellipse cx="1392.4" cy="227.5" rx="2.6" ry="31" stroke-width="1.32"/>
<ellipse cx="1386.6" cy="310.5" rx="2.6" ry="31" stroke-width="1.32"/>
<path d="M1365.4 302.2H1381Q1384.4 302.2 1384.4 306V314.4Q1384.4 318.2 1381 318.2H1365.4" stroke-width="1.4" fill="#fff"/>
<rect x="1373.6" y="218" width="2.8" height="15.6" rx="1.2" stroke-width="1.32"/>
<rect x="1404.2" y="309.3" width="7.8" height="28.1" stroke-width="1.42"/>
<circle cx="1408.4" cy="321.4" r="1" stroke-width="1.22"/>
<rect x="1396.2" y="338.3" width="15" height="22" stroke-width="1.52"/>
<rect x="1396.2" y="338.3" width="4.2" height="22" stroke-width="1.22" fill="#777"/>
<circle cx="1355.7" cy="193.2" r="1.8" stroke-width="1.42"/>
<path d="M1075.8 1088.8V396.2H1199V1088.8Q1199 1090.8 1197 1090.8H1077.8Q1075.8 1090.8 1075.8 1088.8Z" stroke-width="1.5"/>
<path d="M1075.8 404.9L1199 404.9" stroke-width="1.52"/>
<path d="M1086.8 396.2L1086.8 1090.8" stroke-width="1.52"/>
<path d="M1089.4 404.9L1089.4 1099" stroke-width="1.4"/>
<path d="M1185.8 404.9L1185.8 1099" stroke-width="1.4"/>
<path d="M1188.4 396.2L1188.4 1090.8" stroke-width="1.52"/>
<path d="M1086.8 396.2L1088 404.9M1188.4 396.2L1187 404.9" stroke-width="1.22"/>
<rect x="1089.4" y="423.4" width="103.2" height="187.7" rx="4" stroke-width="1.5" fill="#fff"/>
<rect x="1084.5" y="448.6" width="3.5" height="12.6" rx="1" stroke-width="1.32"/>
<rect x="1084.5" y="574.8" width="3.5" height="14.5" rx="1" stroke-width="1.32"/>
<path d="M1087.6 430L1087.6 605" stroke-width="1.8" stroke="#222"/>
<circle cx="1081.5" cy="414.1" r="2.2" stroke-width="1.7"/>
<circle cx="1193.2" cy="414.1" r="2.2" stroke-width="1.7"/>
<circle cx="1081.5" cy="664.3" r="2.2" stroke-width="1.7"/>
<circle cx="1193.2" cy="664.3" r="2.2" stroke-width="1.7"/>
<circle cx="1081.5" cy="1081.7" r="2.2" stroke-width="1.7"/>
<circle cx="1193.2" cy="1081.7" r="2.2" stroke-width="1.7"/>
<circle cx="1136.9" cy="617.9" r="3.6" stroke-width="1.4" fill="#666"/>
<path d="M1134 617.9L1139.8 617.9" stroke-width="1.22" stroke="#eee"/>
<path d="M1136.9 615L1136.9 620.8" stroke-width="1.22" stroke="#eee"/>
<path d="M1086.4 1090.8L1085 1099M1188.4 1090.8L1190 1099" stroke-width="1.52"/>
<path d="M1089.4 1099.6L1185.8 1099.6" stroke-width="1.5"/>
<path d="M1075.8 474.8L1064.6 591.3L1074.6 593.2" stroke-width="1.32"/>
<path d="M1075.8 640L1070 681.7" stroke-width="1.32"/>
<path d="M1074 640L1068 681.7" stroke-width="1.32"/>
<rect x="1064.6" y="506.8" width="7.7" height="7.8" stroke-width="1.22"/>
<rect x="1064.6" y="542.8" width="5.9" height="7.8" stroke-width="1.22"/>
<path d="M1064.6 681.7H1080Q1083.5 682.5 1083.5 686Q1083.5 689 1079 689.5Q1075.8 690 1075.8 694" stroke-width="1.42"/>
<path d="M1064.6 684.3L1081 684.3" stroke-width="1.32"/>
<circle cx="1070.9" cy="731.2" r="1.7" stroke-width="1.52"/>
<circle cx="1203.3" cy="731.2" r="1.7" stroke-width="1.52"/>
<circle cx="1070.9" cy="799.5" r="1.7" stroke-width="1.52"/>
<circle cx="1203.3" cy="799.5" r="1.7" stroke-width="1.52"/>
<circle cx="1070.9" cy="867.7" r="1.7" stroke-width="1.52"/>
<circle cx="1203.3" cy="867.7" r="1.7" stroke-width="1.52"/>
<circle cx="1241.5" cy="708.3" r="1.7" stroke-width="1.52"/>
<path d="M1027.6 650.1 H1042.5Q1046.5 650.1 1046.5 654.1 V681.1 Q1046.5 685.1 1042.5 685.1 H1027.6" stroke-width="1.4"/>
<path d="M1044.4 653.1L1044.4 682.1" stroke-width="1.22"/>
<path d="M1029 684.1 V676.1 H1036.6 V684.1 Q1036.6 676.1 1033 674.7 H1029" stroke-width="1.32"/>
<path d="M1427.5 650.1 H1414Q1411 650.1 1411 653.1 V682.1 Q1411 685.1 1414 685.1 H1427.5" stroke-width="1.52"/>
<path d="M1424.6 651.1L1424.6 684.1" stroke-width="1.6" stroke="#222"/>
<path d="M1420.5 651.1L1420.5 684.1" stroke-width="1.22"/>
<rect x="1412" y="664.1" width="3.6" height="5" stroke-width="1.22"/>
<path d="M1412 674.1 Q1418 676.1 1418 684.1" stroke-width="1.32"/>
<path d="M1027.6 1016.7 H1042.5Q1046.5 1016.7 1046.5 1020.7 V1047.7 Q1046.5 1051.7 1042.5 1051.7 H1027.6" stroke-width="1.4"/>
<path d="M1044.4 1019.7L1044.4 1048.7" stroke-width="1.22"/>
<path d="M1029 1050.7 V1042.7 H1036.6 V1050.7 Q1036.6 1042.7 1033 1041.3 H1029" stroke-width="1.32"/>
<path d="M1427.5 1016.7 H1414Q1411 1016.7 1411 1019.7 V1048.7 Q1411 1051.7 1414 1051.7 H1427.5" stroke-width="1.52"/>
<path d="M1424.6 1017.7L1424.6 1050.7" stroke-width="1.6" stroke="#222"/>
<path d="M1420.5 1017.7L1420.5 1050.7" stroke-width="1.22"/>
<rect x="1412" y="1030.7" width="3.6" height="5" stroke-width="1.22"/>
<path d="M1412 1040.7 Q1418 1042.7 1418 1050.7" stroke-width="1.32"/>
<path d="M1199 399.6L1349.8 399.6" stroke-width="1.42"/>
<path d="M1199 403L1349.8 403" stroke-width="1.5"/>
<path d="M1199 679.8L1349.8 679.8" stroke-width="1.4"/>
<path d="M1199 681.8L1349.8 681.8" stroke-width="1.22"/>
<path d="M1199 684.3L1349.8 684.3" stroke-width="1.4"/>
<path d="M1347.9 403L1347.9 684.3" stroke-width="1.4"/>
<rect x="1333.4" y="445.3" width="3.4" height="13.6" stroke-width="1.52"/>
<rect x="1333.4" y="628.2" width="3.4" height="13.5" stroke-width="1.52"/>
<path d="M1330.6 684.3L1330.6 1319.5" stroke-width="1.52"/>
<path d="M1336.2 684.3L1336.2 1319.5" stroke-width="1.52"/>
<path d="M1352.8 403H1371.2V396.2H1412" stroke-width="1.42"/>
<path d="M1357 432Q1357 410 1366 403.6" stroke-width="1.42"/>
<rect x="1347.7" y="398.8" width="18.8" height="3.2" stroke-width="1.32"/>
<path d="M1410 422.8H1362.5V610.7H1410" stroke-width="1.4"/>
<path d="M1365.4 422.8L1365.4 497" stroke-width="1.32"/>
<path d="M1409 396.2L1409 1090.8" stroke-width="1.52"/>
<path d="M1413 432L1413 601" stroke-width="1.32"/>
<path d="M1410 432L1413 432" stroke-width="1.22"/>
<path d="M1410 601L1413 601" stroke-width="1.22"/>
<path d="M1353.7 497.1L1367.3 498.5L1367.3 618.4L1353.7 616Z" stroke-width="1.42" fill="#fff"/>
<path d="M1355.8 425q3 3 0 8" stroke-width="1.32"/>
<path d="M1355.8 1062q3 4 0 9" stroke-width="1.32"/>
<path d="M1355.8 1090.8L1409 1090.8" stroke-width="1.5"/>
<path d="M1409 1085L1412 1098.8" stroke-width="1.42"/>
<path d="M1414.5 1093.8L1431.6 1093.8" stroke-width="1.52"/>
<path d="M1414.5 1098.8L1431.6 1098.8" stroke-width="1.52"/>
<path d="M1414.5 1093.8L1414.5 1098.8" stroke-width="1.42"/>
<rect x="1355.8" y="1099.8" width="19.4" height="3.2" stroke-width="1.32"/>
<path d="M1355.8 1103Q1357 1112 1353 1118" stroke-width="1.32"/>
<path d="M1336.7 1251.5H1353.3" stroke-width="1.4"/>
<path d="M1349.5 1251.5L1349.5 1307L1336.2 1319.5" stroke-width="1.4"/>
<path d="M1336.2 1272q2 8 0 16" stroke-width="1.22"/>
<path d="M972.8 1093.8L1040 1093.8" stroke-width="1.4"/>
<path d="M1049.5 1093.8L1064.8 1093.8" stroke-width="1.52"/>
<path d="M1040 1093.8L1040 1098.8" stroke-width="1.32"/>
<path d="M1049.5 1093.8L1049.5 1098.8" stroke-width="1.32"/>
<path d="M972.8 1098.8L1064.8 1098.8" stroke-width="1.5"/>
<path d="M972.8 1093.8L972.8 1098.8" stroke-width="1.52"/>
<circle cx="950.6" cy="1059.6" r="4.4" stroke-width="1.8"/>
<path d="M955 1058.4L972.8 1058.4" stroke-width="1.42"/>
<path d="M955 1061.6L972.8 1061.6" stroke-width="1.42"/>
<rect x="961.9" y="1085.3" width="10.9" height="3.4" stroke-width="1.32"/>
<rect x="984.1" y="1098.8" width="47.8" height="3.8" stroke-width="1.42"/>
<path d="M1002.3 1103.5L1004.3 1114L1011.3 1114L1013.2 1103.5Z" stroke-width="1.42"/>
<path d="M1002.8 1106L1012.8 1106" stroke-width="1.22"/>
<path d="M989.6 1102.6L989.6 1236.3" stroke-width="1.52"/>
<path d="M992.6 1102.6L992.6 1236.3" stroke-width="1.32"/>
<path d="M989.6 1236.3L1025 1236.3" stroke-width="2.0" stroke="#222"/>
<path d="M1029.4 1102L1029.4 1349.4" stroke-width="1.52"/>
<path d="M1031 1102.6V1110H1034.5V1113.4H1031" stroke-width="1.32"/>
<path d="M1025 1124 q-2.6 4 0 8" stroke-width="1.32"/>
<path d="M1025 1210 q-2.6 4 0 8" stroke-width="1.32"/>
<path d="M1025 1246 q-2.6 4 0 8" stroke-width="1.32"/>
<rect x="1174.6" y="1110.2" width="13.8" height="3.6" stroke-width="1.42"/>
<rect x="1174.6" y="1235.8" width="13.8" height="3.6" stroke-width="1.42"/>
<circle cx="1067.9" cy="1295.1" r="1.9" stroke-width="1.32"/>
<circle cx="1297.8" cy="1295.1" r="1.9" stroke-width="1.32"/>
<rect x="1021.8" y="1319.5" width="48.9" height="7.1" stroke-width="1.4"/>
<path d="M1034.5 1319.5L1034.5 1326.6" stroke-width="1.22"/>
<rect x="1292.7" y="1319.5" width="48.1" height="7.1" stroke-width="1.4"/>
<path d="M1328 1319.5L1328 1326.6" stroke-width="1.22"/>
<path d="M1070.7 1326.6V1346Q1070.7 1349.4 1074.3 1349.4H1109Q1112.7 1349.4 1112.7 1345.4V1323.5Q1112.7 1319.5 1116.7 1319.5H1247Q1251 1319.5 1251 1323.5V1345.4Q1251 1349.4 1254.6 1349.4H1289.3Q1292.7 1349.4 1292.7 1346V1326.6" stroke-width="1.5"/>
<path d="M1025.9 1349.4L1070.7 1349.4" stroke-width="1.4"/>
<path d="M1292.7 1349.4L1336.2 1349.4" stroke-width="1.4"/>
<path d="M1333.7 1326.6L1333.7 1349.4" stroke-width="1.32"/>
<path d="M1336.2 1326.6L1336.2 1349.4" stroke-width="1.52"/>
<path d="M1047 1326.6L1047 1335" stroke-width="1.42"/>
<path d="M1053 1326.6L1053 1335" stroke-width="1.42"/>
<rect x="1044.5" y="1335" width="11" height="4.5" stroke-width="1.32"/>
<path d="M1045 1339.5L1034 1348.6L1066 1348.6L1055 1339.5" stroke-width="1.52"/>
<path d="M1041 1343L1059 1343" stroke-width="1.22"/>
<path d="M1309.5 1326.6L1309.5 1335" stroke-width="1.42"/>
<path d="M1315.5 1326.6L1315.5 1335" stroke-width="1.42"/>
<rect x="1307" y="1335" width="11" height="4.5" stroke-width="1.32"/>
<path d="M1307.5 1339.5L1296.5 1348.6L1328.5 1348.6L1317.5 1339.5" stroke-width="1.52"/>
<path d="M1303.5 1343L1321.5 1343" stroke-width="1.22"/>
</g>
<g id="p_plan">
<path class="dm" d="M2163.8 1616L2163.8 1752"/>
<path class="dm" d="M2331.8 1616L2331.8 1751"/>
<path class="dm" d="M2163.8 1643.4L2331.8 1643.4"/>
<path class="ar" d="M2163.8 1643.4L2185.8 1638.8L2185.8 1648Z"/>
<path class="ar" d="M2331.8 1643.4L2309.8 1648L2309.8 1638.8Z"/>
<g transform="translate(2265.2 1624.0)" fill="none" stroke="#0c0c0c" stroke-width="0.1152" stroke-linejoin="round"><path transform="translate(-27.80 0) matrix(26.900 0 -4.9856 26.900 4.986 -28.450)" d="M.07 .27 L.30 0 L.30 1"/><path transform="translate(-10.50 0) matrix(26.900 0 -4.9856 26.900 4.986 -28.450)" d="M.02 .81 C.045 .94 .105 1 .175 1 C.315 1 .38 .80 .38 .45 C.38 .15 .315 0 .185 0 C.075 0 0 .13 0 .31 C0 .49 .075 .61 .185 .61 C.285 .61 .355 .50 .38 .38"/><path transform="translate(6.80 0) matrix(26.900 0 -4.9856 26.900 4.986 -28.450)" d="M0 0 L.39 0 C.25 .30 .15 .62 .11 1"/></g>
<g fill="none" stroke="#0c0c0c" stroke-width="2.9"><ellipse cx="0" cy="0" rx="9.3" ry="13.6" transform="translate(2219.2 1609.6) skewX(-11)"/><path d="M2210.2 1629.8L2228 1588.6"/></g>
<path class="dm" d="M1768 1684.4L2790.5 1684.4"/>
<path class="dm" d="M1768 2152.5L1953 2152.5"/>
<path class="dm" d="M1795.6 1684.4L1795.6 2152.5"/>
<path class="ar" d="M1795.6 1684.4L1800.2 1706.4L1791 1706.4Z"/>
<path class="ar" d="M1795.6 2152.5L1791 2130.5L1800.2 2130.5Z"/>
<g transform="translate(1783.0 1917.9) rotate(-90)" fill="none" stroke="#0c0c0c" stroke-width="0.1152" stroke-linejoin="round"><path transform="translate(-24.45 0) matrix(26.900 0 -4.9856 26.900 4.986 -28.450)" d="M.37 0 L.07 0 L.03 .47 C.08 .40 .14 .36 .21 .36 C.32 .36 .39 .49 .39 .67 C.39 .87 .31 1 .19 1 C.09 1 .02 .93 0 .80"/><path transform="translate(-7.15 0) matrix(26.900 0 -4.9856 26.900 4.986 -28.450)" d="M.30 1 L.30 0 L0 .71 L.41 .71"/><path transform="translate(10.15 0) matrix(26.900 0 -4.9856 26.900 4.986 -28.450)" d="M.02 .81 C.045 .94 .105 1 .175 1 C.315 1 .38 .80 .38 .45 C.38 .15 .315 0 .185 0 C.075 0 0 .13 0 .31 C0 .49 .075 .61 .185 .61 C.285 .61 .355 .50 .38 .38"/></g>
<path class="dm" d="M1864 1893.4L2170 1893.4"/>
<path class="dm" d="M1891.9 1893.4L1891.9 2152.5"/>
<path class="ar" d="M1891.9 1893.4L1896.5 1915.4L1887.3 1915.4Z"/>
<path class="ar" d="M1891.9 2152.5L1887.3 2130.5L1896.5 2130.5Z"/>
<g transform="translate(1879.0 2022.4) rotate(-90)" fill="none" stroke="#0c0c0c" stroke-width="0.1152" stroke-linejoin="round"><path transform="translate(-24.38 0) matrix(26.900 0 -4.9856 26.900 4.986 -28.450)" d="M.02 .20 C.05 .07 .11 0 .20 0 C.31 0 .375 .09 .375 .23 C.375 .38 .29 .47 .17 .47 C.30 .47 .39 .57 .39 .72 C.39 .89 .31 1 .19 1 C.09 1 .02 .92 0 .78"/><path transform="translate(-7.08 0) matrix(26.900 0 -4.9856 26.900 4.986 -28.450)" d="M0 .5 C0 .2 0.06 0 0.1925 0 C0.325 0 0.385 .2 0.385 .5 C0.385 .8 0.325 1 0.1925 1 C0.06 1 0 .8 0 .5 Z"/><path transform="translate(10.22 0) matrix(26.900 0 -4.9856 26.900 4.986 -28.450)" d="M.30 1 L.30 0 L0 .71 L.41 .71"/></g>
<path class="dm" d="M2324 2170.9L2790.5 2170.9"/>
<path class="dm" d="M2763.4 1684.4L2763.4 2170.9"/>
<path class="ar" d="M2763.4 1684.4L2768 1706.4L2758.8 1706.4Z"/>
<path class="ar" d="M2763.4 2170.9L2758.8 2148.9L2768 2148.9Z"/>
<g transform="translate(2750.4 1926.2) rotate(-90)" fill="none" stroke="#0c0c0c" stroke-width="0.1152" stroke-linejoin="round"><path transform="translate(-24.45 0) matrix(26.900 0 -4.9856 26.900 4.986 -28.450)" d="M.37 0 L.07 0 L.03 .47 C.08 .40 .14 .36 .21 .36 C.32 .36 .39 .49 .39 .67 C.39 .87 .31 1 .19 1 C.09 1 .02 .93 0 .80"/><path transform="translate(-7.15 0) matrix(26.900 0 -4.9856 26.900 4.986 -28.450)" d="M0 0 L.39 0 C.25 .30 .15 .62 .11 1"/><path transform="translate(10.15 0) matrix(26.900 0 -4.9856 26.900 4.986 -28.450)" d="M0 .5 C0 .2 0.06 0 0.1925 0 C0.325 0 0.385 .2 0.385 .5 C0.385 .8 0.325 1 0.1925 1 C0.06 1 0 .8 0 .5 Z"/></g>
<path class="dm" d="M1952.6 2152.5L1952.6 2388"/>
<path class="dm" d="M2574.5 2150L2574.5 2388"/>
<path class="dm" d="M2247.6 2010L2247.6 2287.5"/>
<path class="dm" d="M1952.6 2260.6L2247.6 2260.6"/>
<path class="ar" d="M1952.6 2260.6L1974.6 2256L1974.6 2265.2Z"/>
<path class="ar" d="M2247.6 2260.6L2225.6 2265.2L2225.6 2256Z"/>
<g transform="translate(2100.6 2247.6)" fill="none" stroke="#0c0c0c" stroke-width="0.1152" stroke-linejoin="round"><path transform="translate(-25.60 0) matrix(26.900 0 -4.9856 26.900 4.986 -28.450)" d="M.02 .20 C.05 .07 .11 0 .20 0 C.31 0 .375 .09 .375 .23 C.375 .38 .29 .47 .17 .47 C.30 .47 .39 .57 .39 .72 C.39 .89 .31 1 .19 1 C.09 1 .02 .92 0 .78"/><path transform="translate(-8.30 0) matrix(26.900 0 -4.9856 26.900 4.986 -28.450)" d="M.30 1 L.30 0 L0 .71 L.41 .71"/><path transform="translate(9.00 0) matrix(26.900 0 -4.9856 26.900 4.986 -28.450)" d="M0 0 L.39 0 C.25 .30 .15 .62 .11 1"/></g>
<path class="dm" d="M1952.6 2361.2L2574.5 2361.2"/>
<path class="ar" d="M1952.6 2361.2L1974.6 2356.6L1974.6 2365.8Z"/>
<path class="ar" d="M2574.5 2361.2L2552.5 2365.8L2552.5 2356.6Z"/>
<g transform="translate(2266.5 2347.6)" fill="none" stroke="#0c0c0c" stroke-width="0.1152" stroke-linejoin="round"><path transform="translate(-26.45 0) matrix(26.900 0 -4.9856 26.900 4.986 -28.450)" d="M0 0 L.39 0 C.25 .30 .15 .62 .11 1"/><path transform="translate(-9.15 0) matrix(26.900 0 -4.9856 26.900 4.986 -28.450)" d="M.02 .20 C.05 .07 .11 0 .20 0 C.31 0 .375 .09 .375 .23 C.375 .38 .29 .47 .17 .47 C.30 .47 .39 .57 .39 .72 C.39 .89 .31 1 .19 1 C.09 1 .02 .92 0 .78"/><path transform="translate(8.15 0) matrix(26.900 0 -4.9856 26.900 4.986 -28.450)" d="M0 .5 C0 .2 0.06 0 0.1925 0 C0.325 0 0.385 .2 0.385 .5 C0.385 .8 0.325 1 0.1925 1 C0.06 1 0 .8 0 .5 Z"/></g>
<path d="M1953.4 1684.4L1953.4 2140" stroke-width="2.6" stroke="#222"/>
<path d="M1959.7 2140V1686.4Q1959.7 1684.4 1961.7 1684.4H2012.2" stroke-width="1.6"/>
<path d="M1961.9 1686L1961.9 2140" stroke-width="1.52"/>
<rect x="1965.7" y="1680.2" width="9.1" height="4" stroke-width="1.42"/>
<path d="M1970.2 1680.2L1970.2 1684.2" stroke-width="1.22"/>
<circle cx="1989.3" cy="1753.2" r="3.9" stroke="#222" stroke-width="2.4"/>
<circle cx="1989.3" cy="1906.4" r="3.9" stroke="#222" stroke-width="2.4"/>
<circle cx="1989.3" cy="2059.8" r="3.9" stroke="#222" stroke-width="2.4"/>
<path d="M2015.6 1688L2015.6 2087.5" stroke-width="1.5"/>
<path d="M2012.2 1684.4L2050.6 1723.2Q2052.6 1725.4 2050.6 1727.6L2015.6 1765.6" stroke-width="1.5"/>
<rect x="-6.5" y="-1.8" width="13" height="3.6" transform="translate(2032 1707.4) rotate(45)" stroke-width="1.42"/>
<rect x="-6.5" y="-1.8" width="13" height="3.6" transform="translate(2033 1746.2) rotate(-45)" stroke-width="1.42"/>
<path d="M2016.3 2087.5L1962.6 2141.2" stroke-width="1.5"/>
<path d="M2017.8 2089L1964.6 2143" stroke-width="1.42"/>
<rect x="1953.2" y="2140.2" width="10.6" height="11.8" stroke-width="1.52"/>
<path d="M1964.5 2143.6L2573.6 2143.6" stroke-width="1.6"/>
<path d="M1964.5 2146.4L2573.6 2146.4" stroke-width="1.42"/>
<path d="M1964 2150.6L2574 2150.6" stroke-width="3.0" stroke="#222"/>
<circle cx="2027.8" cy="2115.4" r="3.8" stroke="#222" stroke-width="2.4"/>
<circle cx="2266.7" cy="2115.4" r="3.8" stroke="#222" stroke-width="2.4"/>
<circle cx="2505.6" cy="2115.4" r="3.8" stroke="#222" stroke-width="2.4"/>
<path d="M2016.3 2062.5L2492 2062.5" stroke-width="1.5"/>
<path d="M2016.3 2069.4L2507 2069.4" stroke-width="1.4"/>
<path d="M2016.3 2088.2L2573.6 2088.2" stroke-width="2.0" stroke="#222"/>
<rect x="2068" y="2160.8" width="255.6" height="10.4" stroke-width="1.5"/>
<path d="M2093.9 2160.8L2093.9 2171.2" stroke-width="1.22"/>
<path d="M2096.4 2160.8L2096.4 2171.2" stroke-width="1.22"/>
<path d="M2133.2 2160.8L2133.2 2171.2" stroke-width="1.22"/>
<path d="M2135.3 2160.8L2135.3 2171.2" stroke-width="1.22"/>
<path d="M2256.4 2160.8L2256.4 2171.2" stroke-width="1.22"/>
<path d="M2258.8 2160.8L2258.8 2171.2" stroke-width="1.22"/>
<path d="M2295.1 2160.8L2295.1 2171.2" stroke-width="1.22"/>
<path d="M2297.2 2160.8L2297.2 2171.2" stroke-width="1.22"/>
<path d="M2097.6 2152L2097.6 2160.8" stroke-width="1.42"/>
<path d="M2131.6 2152L2131.6 2160.8" stroke-width="1.42"/>
<path d="M2259.5 2152L2259.5 2160.8" stroke-width="1.42"/>
<path d="M2293.6 2152L2293.6 2160.8" stroke-width="1.42"/>
<path d="M2102 2160.8q2 -2.4 4 0M2123 2160.8q2 -2.4 4 0M2264 2160.8q2 -2.4 4 0M2285 2160.8q2 -2.4 4 0M2186 2152q3 3 6 0" stroke-width="1.22"/>
<path d="M2493.1 2088.2L2529 2053.2Q2530.2 2052 2531.4 2053.2L2573.6 2092.4V2150" stroke-width="1.5"/>
<rect x="-6.5" y="-1.8" width="13" height="3.6" transform="translate(2511.5 2071.6) rotate(-45)" stroke-width="1.42"/>
<rect x="-6.5" y="-1.8" width="13" height="3.6" transform="translate(2550.5 2072.6) rotate(45)" stroke-width="1.42"/>
<path d="M2571.4 2094L2571.4 2143" stroke-width="1.22"/>
<rect x="2574" y="2130" width="4.6" height="9.2" stroke-width="1.42"/>
<path d="M2574 2134.6L2578.6 2134.6" stroke-width="1.22"/>
<path d="M2035.4 2062.5L2035.4 1747.8L2042 1747.8L2042 2062.5" stroke-width="1.4"/>
<path d="M2047.4 1767.6L2047.4 2042" stroke-width="1.42"/>
<path d="M2050.2 1767.6L2050.2 2040" stroke-width="1.42"/>
<path d="M2042 1765.6L2142.8 1765.6" stroke-width="1.42"/>
<path d="M2042 1767.6L2144.6 1767.6" stroke-width="1.4"/>
<path d="M2142.8 1765.6L2157.4 1751" stroke-width="1.4"/>
<path d="M2144.8 1767.6L2160 1752.4" stroke-width="1.32"/>
<path d="M2102.6 1767.6L2102.6 2020" stroke-width="1.42"/>
<path d="M2336.6 1750.4L2355 1766.8H2488Q2491.2 1766.8 2491.2 1770V1908.2H2477.4V1916" stroke-width="1.4"/>
<path d="M2332 1750.4L2336.6 1750.4" stroke-width="1.42"/>
<path d="M2392.2 1766.8L2392.2 1942" stroke-width="1.52"/>
<path d="M2393.8 1766.8L2393.8 1945.6" stroke-width="1.22"/>
<path d="M2445.4 1766.8L2445.4 1945.6" stroke-width="1.42"/>
<path d="M2448 1766.8L2448 1945.6" stroke-width="1.42"/>
<path d="M2392.2 1942Q2392.2 1945.6 2396 1945.6H2475.2" stroke-width="1.52"/>
<path d="M2475.2 2012.5H2396.4Q2392.8 2012.5 2392.8 2016" stroke-width="1.52"/>
<path d="M2445.4 2012.5L2445.4 2037" stroke-width="1.42"/>
<path d="M2448 2012.5L2448 2040" stroke-width="1.42"/>
<path d="M2478.4 2042.6H2491.4V2061.8" stroke-width="1.52"/>
<rect x="2058.3" y="1779.6" width="3.8" height="3.9" stroke-width="1.42"/>
<rect x="2101" y="1779.6" width="1.6" height="3.9" stroke-width="1.42"/>
<rect x="2392.4" y="1779.6" width="3" height="3.9" stroke-width="1.42"/>
<rect x="2433.4" y="1779.6" width="3.8" height="3.9" stroke-width="1.42"/>
<circle cx="2069.6" cy="1781" r="3.9" stroke-width="1.4"/>
<path d="M2065.8 1779H2073.6" stroke-width="1.42"/>
<circle cx="2069.6" cy="1777.8" r="3" stroke-width="1.32"/>
<rect x="2123.7" y="1780" width="13.7" height="3.5" stroke-width="1.52"/>
<rect x="2358.2" y="1780" width="14" height="3.5" stroke-width="1.52"/>
<rect x="2474.5" y="1844" width="4.1" height="13.2" stroke-width="1.52"/>
<rect x="2043.3" y="1933.2" width="3.9" height="14" stroke-width="1.42"/>
<rect x="2055.8" y="1982.9" width="3.6" height="3.7" stroke-width="1.42"/>
<rect x="2179.4" y="2007.6" width="13.5" height="4.8" stroke-width="1.52"/>
<rect x="2302.8" y="2007.6" width="13.6" height="4.8" stroke-width="1.52"/>
<rect x="2161.5" y="2057.4" width="13.5" height="4.8" stroke-width="1.52"/>
<rect x="2323.4" y="2057.4" width="13.7" height="4.8" stroke-width="1.52"/>
<path d="M2102.6 2017.6H2389.6Q2393.6 2017.6 2394.6 2020.8" stroke-width="1.4"/>
<path d="M2102.6 2021.6L2394.6 2021.6" stroke-width="1.52"/>
<path d="M2102.6 2019.6L2042.4 2044.6" stroke-width="1.4"/>
<path d="M2102.6 2021.8L2044 2046.2" stroke-width="1.32"/>
<path d="M2394.6 2020.8L2457.6 2045.6" stroke-width="1.4"/>
<path d="M2393.6 2022.8L2456 2048.6" stroke-width="1.32"/>
<path d="M2457.6 2045.6L2457.6 2049.6" stroke-width="2.0"/>
<path d="M2042.4 2046.6L2188 2046.6" stroke-width="1.52"/>
<path d="M2307 2046.6L2457.6 2046.6" stroke-width="1.52"/>
<path d="M2042.4 2049L2194 2049" stroke-width="1.52"/>
<path d="M2301 2049L2456 2049" stroke-width="1.52"/>
<ellipse cx="2107.4" cy="2025.2" rx="2.6" ry="1" stroke="#222" stroke-width="1.4"/>
<ellipse cx="2058" cy="2044" rx="2.6" ry="1" stroke="#222" stroke-width="1.4"/>
<ellipse cx="2388" cy="2025.2" rx="2.6" ry="1" stroke="#222" stroke-width="1.4"/>
<ellipse cx="2436.6" cy="2044" rx="2.6" ry="1" stroke="#222" stroke-width="1.4"/>
<path d="M2187.6 2048.6V2033.8Q2187.6 2028.4 2247.4 2028.4Q2308.2 2028.4 2308.2 2033.8V2048.6" stroke-width="1.4"/>
<ellipse cx="2247.4" cy="2046.8" rx="58" ry="5.6" stroke-width="1.8"/>
<circle cx="2247.4" cy="1893.4" r="123.6" stroke-width="2.0"/>
<circle cx="2247.4" cy="1893.4" r="120.8" stroke-width="1.42"/>
<circle cx="2247.4" cy="1893.4" r="106.8" stroke-width="1.42"/>
<circle cx="2247.4" cy="1893.4" r="104.4" stroke-width="1.42"/>
<circle cx="2247.4" cy="1893.4" r="88.2" stroke-width="1.42"/>
<path d="M2245.8 1963.9L2239 2004Q2239 2007 2242 2007L2252.8 2007Q2255.8 2007 2255.8 2004L2249 1963.9Q2247.4 1961.9 2245.8 1963.9Z" stroke-width="1.7" fill="#fff"/>
<path d="M2246.4 1968.9L2241.4 2001.6Q2241.4 2004.6 2244.4 2004.6L2250.4 2004.6Q2253.4 2004.6 2253.4 2001.6L2248.4 1968.9Q2247.4 1966.9 2246.4 1968.9Z" stroke-width="1.52" fill="#fff"/>
<path d="M2247.4 1968.4L2245 2001.4M2247.4 1968.4L2249.8 2001.4" stroke-width="1.22"/>
<path d="M2208.7 1952.3L2181.7 1982.7Q2180.1 1985.3 2182.6 1986.9L2191.8 1992.6Q2194.3 1994.2 2195.9 1991.6L2211.4 1954Q2211.1 1951.5 2208.7 1952.3Z" stroke-width="1.7" fill="#fff"/>
<path d="M2206.6 1956.9L2185 1982Q2183.4 1984.5 2185.9 1986.1L2191 1989.3Q2193.6 1990.9 2195.2 1988.3L2208.2 1957.9Q2208.5 1955.7 2206.6 1956.9Z" stroke-width="1.52" fill="#fff"/>
<path d="M2207.7 1957L2188.1 1983.7M2207.7 1957L2192.2 1986.3" stroke-width="1.22"/>
<path d="M2283.4 1954L2298.9 1991.6Q2300.5 1994.2 2303 1992.6L2312.2 1986.9Q2314.7 1985.3 2313.1 1982.7L2286.1 1952.3Q2283.7 1951.5 2283.4 1954Z" stroke-width="1.7" fill="#fff"/>
<path d="M2286.6 1957.9L2299.6 1988.3Q2301.2 1990.9 2303.8 1989.3L2308.9 1986.1Q2311.4 1984.5 2309.8 1982L2288.2 1956.9Q2286.3 1955.7 2286.6 1957.9Z" stroke-width="1.52" fill="#fff"/>
<path d="M2287.1 1957L2302.6 1986.3M2287.1 1957L2306.7 1983.7" stroke-width="1.22"/>
<path d="M2170.9 1925.8L2143.6 1932.5Q2140.9 1933.8 2142.2 1936.5L2146.7 1946.3Q2148 1949 2150.7 1947.8L2173.4 1931.2Q2174 1927.6 2170.9 1925.8Z" stroke-width="1.7" fill="#fff"/>
<path d="M2166.9 1929L2146.8 1933.7Q2144.1 1935 2145.4 1937.7L2147.9 1943.1Q2149.2 1945.8 2151.9 1944.6L2168.4 1932.2Q2169.5 1929.7 2166.9 1929Z" stroke-width="1.52" fill="#fff"/>
<path d="M2168.1 1930.4L2148.5 1936.9M2168.1 1930.4L2150.5 1941.2" stroke-width="1.22"/>
<path d="M2321.4 1931.2L2344.1 1947.8Q2346.8 1949 2348.1 1946.3L2352.6 1936.5Q2353.9 1933.8 2351.2 1932.5L2323.9 1925.8Q2320.8 1927.6 2321.4 1931.2Z" stroke-width="1.7" fill="#fff"/>
<path d="M2326.4 1932.2L2342.9 1944.6Q2345.6 1945.8 2346.9 1943.1L2349.4 1937.7Q2350.7 1935 2348 1933.7L2327.9 1929Q2325.3 1929.7 2326.4 1932.2Z" stroke-width="1.52" fill="#fff"/>
<path d="M2326.7 1930.4L2344.3 1941.2M2326.7 1930.4L2346.3 1936.9" stroke-width="1.22"/>
<path d="M2136.2 1881H2142.7L2145 1879L2162.5 1876Q2163.5 1884 2167.8 1893.8H2139.3Z" stroke-width="1.5" fill="#fff"/>
<path d="M2136.2 1881V1906.6L2149 1905.5V1902.5H2139.3V1881Z" stroke-width="2.0" stroke="#1a1a1a" fill="#fff"/>
<path d="M2146 1896.7H2161.5V1905.4H2146Z" stroke-width="1.4" fill="#fff"/>
<path d="M2146.5 1898.4H2161" stroke-width="3.0" stroke="#333"/>
<path d="M2146 1896.7L2142.5 1902.5" stroke-width="1.42"/>
<circle cx="2153.8" cy="1885.1" r="7.2" stroke="#1a1a1a" stroke-width="2.1" fill="#fff"/>
<ellipse cx="2154.4" cy="1883.2" rx="5.6" ry="4.4" stroke-width="1.52"/>
<path d="M2148.6 1887.6Q2153.8 1891.6 2159 1887.6" stroke-width="1.52"/>
<path d="M2151.4 1889.4H2156.2" stroke-width="1.42"/>
<path d="M2358.6 1881H2352.1L2349.8 1879L2332.3 1876Q2331.3 1884 2327 1893.8H2355.5Z" stroke-width="1.5" fill="#fff"/>
<path d="M2358.6 1881V1906.6L2345.8 1905.5V1902.5H2355.5V1881Z" stroke-width="2.0" stroke="#1a1a1a" fill="#fff"/>
<path d="M2348.8 1896.7H2333.3V1905.4H2348.8Z" stroke-width="1.4" fill="#fff"/>
<path d="M2348.3 1898.4H2333.8" stroke-width="3.0" stroke="#333"/>
<path d="M2348.8 1896.7L2352.3 1902.5" stroke-width="1.42"/>
<circle cx="2341" cy="1885.1" r="7.2" stroke="#1a1a1a" stroke-width="2.1" fill="#fff"/>
<ellipse cx="2340.4" cy="1883.2" rx="5.6" ry="4.4" stroke-width="1.52"/>
<path d="M2335.8 1887.6Q2341 1891.6 2346.2 1887.6" stroke-width="1.52"/>
<path d="M2338.6 1889.4H2343.4" stroke-width="1.42"/>
<path d="M2165.6 1797V1880 A82.1 57.7 0 0 0 2329.8 1880 V1797Z" stroke-width="1.5" fill="#fff"/>
<path d="M2164.7 1883.3A83 57.7 0 0 0 2330.7 1883.3" stroke-width="1.42"/>
<path d="M2163.7 1886.5A84 57.7 0 0 0 2331.7 1886.5" stroke-width="1.42"/>
<path d="M2162.7 1890.5A85 57.7 0 0 0 2332.7 1890.5" stroke-width="2.6" stroke="#222"/>
<path d="M2163.9 1751L2162.6 1790.4H2333.4L2332.4 1751Z" stroke-width="1.4" fill="#fff"/>
<path d="M2163.9 1750.6L2332.4 1750.6" stroke-width="2.4" stroke="#222"/>
<path d="M2164 1753.4L2332 1753.4" stroke-width="1.32"/>
<path d="M2187.6 1748.2L2307.4 1748.2" stroke-width="1.32"/>
<rect x="2160.6" y="1790.2" width="174.8" height="5.2" rx="2.6" stroke-width="1.52" fill="#666"/>
<path d="M2164.8 1797.4L2330.2 1797.4" stroke-width="1.42"/>
<path d="M2165.2 1800.4L2329.8 1800.4" stroke-width="1.42"/>
<text x="2313.6" y="1813.6" style="font-family:'Liberation Sans',sans-serif;font-weight:bold;font-size:8.6px;fill:#111;stroke:#111;stroke-width:1.3" textLength="17.4" lengthAdjust="spacingAndGlyphs">NID-10</text>
<path d="M2148.1 1790.9L2167.1 1809.9L2148.1 1828.9L2129.1 1809.9Z" stroke-width="1.4" fill="#fff"/>
<circle cx="2146.5" cy="1811.1" r="7" stroke="#222" stroke-width="2.0"/>
<circle cx="2146.5" cy="1811.1" r="4.9" stroke-width="1.32"/>
<circle cx="2146.5" cy="1811.1" r="2.8" stroke-width="1.52"/>
<path d="M2347.3 1790.9L2366.3 1809.9L2347.3 1828.9L2328.3 1809.9Z" stroke-width="1.4" fill="#fff"/>
<circle cx="2348.9" cy="1811.1" r="7" stroke="#222" stroke-width="2.0"/>
<circle cx="2348.9" cy="1811.1" r="4.9" stroke-width="1.32"/>
<circle cx="2348.9" cy="1811.1" r="2.8" stroke-width="1.52"/>
<path d="M2149.6 1956.7L2168.6 1975.7L2149.6 1994.7L2130.6 1975.7Z" stroke-width="1.4" fill="#fff"/>
<circle cx="2148" cy="1976.9" r="7" stroke="#222" stroke-width="2.0"/>
<circle cx="2148" cy="1976.9" r="4.9" stroke-width="1.32"/>
<circle cx="2148" cy="1976.9" r="2.8" stroke-width="1.52"/>
<path d="M2346 1956.7L2365 1975.7L2346 1994.7L2327 1975.7Z" stroke-width="1.4" fill="#fff"/>
<circle cx="2347.6" cy="1976.9" r="7" stroke="#222" stroke-width="2.0"/>
<circle cx="2347.6" cy="1976.9" r="4.9" stroke-width="1.32"/>
<circle cx="2347.6" cy="1976.9" r="2.8" stroke-width="1.52"/>
<path d="M2165.6 1797L2165.6 1872" stroke-width="1.5"/>
<path d="M2329.8 1797L2329.8 1872" stroke-width="1.5"/>
<path d="M2073.2 1705.5L2180.7 1705.5" stroke-width="2.6" stroke="#222"/>
<path d="M2076 1707.6L2179 1707.6" stroke-width="1.22"/>
<path d="M2075.4 1705.5L2075.4 1780" stroke-width="1.52"/>
<path d="M2077.4 1705.5L2077.4 1780" stroke-width="1.5" stroke="#222"/>
<path d="M2075.4 1780H2079V1776" stroke-width="1.52"/>
<path d="M2175.8 1705.5L2175.8 1750.7" stroke-width="1.42"/>
<path d="M2178.2 1705.5L2178.2 1750.7" stroke-width="1.6" stroke="#222"/>
<path d="M2180.7 1705.5L2180.7 1750.7" stroke-width="1.52"/>
<path d="M2117.6 1711.4H2084Q2080.8 1711.4 2080.8 1714.6V1753.6Q2080.8 1756.8 2084 1756.8H2150" stroke-width="1.52"/>
<path d="M2134.8 1711.4H2167.4Q2170.6 1711.4 2170.6 1714.6V1750" stroke-width="1.52"/>
<path d="M2118.6 1713H2085.4Q2082.8 1713 2082.8 1715.6V1752.8Q2082.8 1755.3 2085.4 1755.3H2151" stroke-width="1.32"/>
<path d="M2133.8 1713H2166Q2168.6 1713 2168.6 1715.6V1750" stroke-width="1.32"/>
<path d="M2121.6 1717.9H2087.4V1726M2130.4 1717.9H2164.6V1750" stroke-width="1.42"/>
<path d="M2117.6 1711.4L2121.6 1714V1718M2134.8 1711.4L2130.4 1714V1718" stroke-width="1.32"/>
<path d="M2082 1752.3L2155.5 1752.3" stroke-width="1.4"/>
<path d="M2077.4 1761.3L2147 1761.3" stroke-width="1.52"/>
<path d="M2092 1764.4L2144 1764.4" stroke-width="1.42"/>
<path d="M2052.6 1723.6L2105.5 1729.6Q2111 1730.6 2112.4 1735V1748.2L2045 1740.8Z" stroke-width="1.4" fill="#fff"/>
<path d="M2040.9 1745.2L2129.7 1751.8" stroke-width="1.52"/>
<path d="M2040.9 1745.2L2045 1740.8" stroke-width="1.42"/>
<path d="M2035.4 1747.8L2040.9 1745.2" stroke-width="1.32"/>
<rect x="2082.4" y="1750" width="7.6" height="4" stroke-width="1.22" fill="#fff"/>
<rect x="2123.2" y="1718.4" width="5.5" height="5.6" stroke-width="1.52" fill="#fff"/>
<path d="M2126 1718.4L2126 1748" stroke-width="1.32"/>
<rect x="2112.2" y="1723.6" width="27.1" height="23.2" stroke="#222" rx="3" stroke-width="2.0" fill="#fff"/>
<path d="M2112.4 1731.5L2132 1733.7" stroke-width="1.6" stroke="#222"/>
<path d="M2112.4 1735L2132 1737.2" stroke-width="1.6" stroke="#222"/>
<path d="M2112.4 1739.4L2132 1741.6" stroke-width="1.6" stroke="#222"/>
<path d="M2112.4 1743L2132 1745.2" stroke-width="1.6" stroke="#222"/>
<path d="M2132 1727L2132 1750" stroke-width="1.42"/>
<path d="M2135.4 1727L2135.4 1747" stroke-width="1.42"/>
<path d="M2112.4 1748.2L2128 1751.8Q2131 1752 2132 1749" stroke-width="1.52"/>
<rect x="2475" y="1916.3" width="3.3" height="126.2" stroke-width="1.52"/>
<path d="M2478.3 1929.2H2487V1923.8H2536V2029.4H2478.3" stroke-width="1.4"/>
<path d="M2487 1924.2L2536 1924.2" stroke-width="2.4" stroke="#222"/>
<path d="M2478.3 2029L2536 2029" stroke-width="2.4" stroke="#222"/>
<path d="M2487 1926.9L2533.7 1926.9" stroke-width="1.22"/>
<path d="M2533.7 1924L2533.7 2029" stroke-width="1.32"/>
<path d="M2478.3 2026.6L2534 2026.6" stroke-width="1.22"/>
<rect x="2482.5" y="1934.6" width="46.9" height="88.4" rx="3" stroke-width="1.52"/>
<rect x="2484.9" y="1937" width="42.2" height="83.7" rx="2.4" stroke-width="1.32"/>
<rect x="2488.4" y="1941" width="34.5" height="76.2" stroke-width="1.42"/>
<path d="M2529.4 1968L2526 1972V1986L2529.4 1990" stroke-width="1.32"/>
<path d="M2490.7 1982L2510.7 2066.5L2529.4 2052.4L2508.3 1993.7Z" stroke-width="1.4" fill="#fff"/>
<path d="M2496 1990L2515.6 2062.8" stroke-width="1.32"/>
<path d="M2510.7 2066.5L2506.4 2068.6L2504.8 2063" stroke-width="1.32"/>
<rect x="2517.7" y="1975" width="9.4" height="7" stroke-width="1.42" fill="#fff"/>
<path d="M2500 1978.5L2527 1978.5" stroke-width="1.32"/>
<rect x="2494.2" y="1965.6" width="23.5" height="25.8" stroke="#222" rx="3" stroke-width="2.0" fill="#fff"/>
<path d="M2501.4 1970L2499 1991" stroke-width="1.6" stroke="#222"/>
<path d="M2505 1970L2502.6 1991" stroke-width="1.6" stroke="#222"/>
<path d="M2509 1970L2506.6 1991" stroke-width="1.6" stroke="#222"/>
<path d="M2512.6 1970L2510.2 1991" stroke-width="1.6" stroke="#222"/>
<path d="M2497 1970L2515 1970" stroke-width="1.42"/>
<path d="M2497 1973.2L2515 1973.2" stroke-width="1.42"/>
<path d="M2490.7 1982L2492 1976Q2494 1973 2500 1971.6" stroke-width="1.52"/>
<path d="M2247.6 1734.2L2247.6 1814.8" stroke-width="1.4" stroke="#333"/>
<path d="M2247.6 1826.2L2247.6 1839.2" stroke-width="1.4" stroke="#333"/>
<path d="M2247.6 1851.5L2247.6 2012" stroke-width="1.4" stroke="#333"/>
<path d="M2180 1893.4L2390.5 1893.4" stroke-width="1.4" stroke="#333" stroke-dasharray="12 11 87 11"/>
</g>
<g id="p_right">
<path class="dm" d="M2884.6 54.5L2884.6 165"/>
<path class="dm" d="M3346.7 54.5L3346.7 165"/>
<path class="dm" d="M2884.6 81.5L3346.7 81.5"/>
<path class="ar" d="M2884.6 81.5L2906.6 76.9L2906.6 86.1Z"/>
<path class="ar" d="M3346.7 81.5L3324.7 86.1L3324.7 76.9Z"/>
<g transform="translate(3117.3 69.2)" fill="none" stroke="#0c0c0c" stroke-width="0.1152" stroke-linejoin="round"><path transform="translate(-24.33 0) matrix(26.900 0 -4.9856 26.900 4.986 -28.450)" d="M.37 0 L.07 0 L.03 .47 C.08 .40 .14 .36 .21 .36 C.32 .36 .39 .49 .39 .67 C.39 .87 .31 1 .19 1 C.09 1 .02 .93 0 .80"/><path transform="translate(-7.03 0) matrix(26.900 0 -4.9856 26.900 4.986 -28.450)" d="M.30 1 L.30 0 L0 .71 L.41 .71"/><path transform="translate(10.27 0) matrix(26.900 0 -4.9856 26.900 4.986 -28.450)" d="M.07 .27 L.30 0 L.30 1"/></g>
<path class="dm" d="M2985.4 836.6L3328.5 836.6"/>
<path class="ar" d="M2985.4 836.6L3007.4 832L3007.4 841.2Z"/>
<path class="ar" d="M3328.5 836.6L3306.5 841.2L3306.5 832Z"/>
<g transform="translate(3158.4 822.0)" fill="none" stroke="#0c0c0c" stroke-width="0.1152" stroke-linejoin="round"><path transform="translate(-25.12 0) matrix(26.900 0 -4.9856 26.900 4.986 -28.450)" d="M.30 1 L.30 0 L0 .71 L.41 .71"/><path transform="translate(-7.82 0) matrix(26.900 0 -4.9856 26.900 4.986 -28.450)" d="M0 .5 C0 .2 0.06 0 0.1925 0 C0.325 0 0.385 .2 0.385 .5 C0.385 .8 0.325 1 0.1925 1 C0.06 1 0 .8 0 .5 Z"/><path transform="translate(9.48 0) matrix(26.900 0 -4.9856 26.900 4.986 -28.450)" d="M.01 .26 C.01 .1 .08 0 .20 0 C.31 0 .385 .09 .385 .23 C.385 .40 .28 .50 .15 .67 C.07 .78 .02 .88 0 1 L.39 1"/></g>
<path class="dm" d="M2975.5 944.5L3345 944.5"/>
<path class="ar" d="M2975.5 944.5L2997.5 939.9L2997.5 949.1Z"/>
<path class="ar" d="M3345 944.5L3323 949.1L3323 939.9Z"/>
<g transform="translate(3161.0 930.0)" fill="none" stroke="#0c0c0c" stroke-width="0.1152" stroke-linejoin="round"><path transform="translate(-24.97 0) matrix(26.900 0 -4.9856 26.900 4.986 -28.450)" d="M.30 1 L.30 0 L0 .71 L.41 .71"/><path transform="translate(-7.67 0) matrix(26.900 0 -4.9856 26.900 4.986 -28.450)" d="M.02 .20 C.05 .07 .11 0 .20 0 C.31 0 .375 .09 .375 .23 C.375 .38 .29 .47 .17 .47 C.30 .47 .39 .57 .39 .72 C.39 .89 .31 1 .19 1 C.09 1 .02 .92 0 .78"/><path transform="translate(9.63 0) matrix(26.900 0 -4.9856 26.900 4.986 -28.450)" d="M.02 .20 C.05 .07 .11 0 .20 0 C.31 0 .375 .09 .375 .23 C.375 .38 .29 .47 .17 .47 C.30 .47 .39 .57 .39 .72 C.39 .89 .31 1 .19 1 C.09 1 .02 .92 0 .78"/></g>
<path d="M2884.6 166.3L3346.7 166.3" stroke-width="2.6"/>
<path d="M2885.6 166L2885.6 683" stroke-width="2.0"/>
<path d="M3341.2 166L3341.2 683" stroke-width="1.42"/>
<path d="M3343.4 166L3343.4 683" stroke-width="1.8" stroke="#222"/>
<path d="M3345.8 166L3345.8 688" stroke-width="1.4"/>
<path d="M2885.6 682.6L3342 682.6" stroke-width="1.8"/>
<path d="M2885.6 687.4L3346.4 687.4" stroke-width="2.2"/>
<rect x="2949.3" y="161.6" width="8" height="3.4" stroke-width="1.42"/>
<rect x="3103.3" y="161.6" width="8" height="3.4" stroke-width="1.42"/>
<rect x="3257.3" y="161.6" width="8" height="3.4" stroke-width="1.42"/>
<rect x="3312" y="161.6" width="8" height="3.4" stroke-width="1.42"/>
<rect x="2880.8" y="229.6" width="3.6" height="8.9" stroke-width="1.42"/>
<path d="M3347.4 687.8H3352.3Q3353.8 687.8 3353.8 686V682.5" stroke-width="1.6"/>
<path d="M3344.6 207L3344.6 225" stroke-width="1.22"/>
<path d="M3344.6 350L3344.6 368" stroke-width="1.22"/>
<path d="M3344.6 500L3344.6 518" stroke-width="1.22"/>
<path d="M3344.6 640L3344.6 658" stroke-width="1.22"/>
<path d="M2885.8 687.4L2885.8 1098" stroke-width="1.6"/>
<path d="M2891 687.4L2891 1093.5" stroke-width="1.4"/>
<path d="M2975.5 687.4L2975.5 1098" stroke-width="1.6"/>
<path d="M2885.8 1093.5L2963 1093.5" stroke-width="1.4"/>
<path d="M2963 1093.5L2963 1098" stroke-width="1.42"/>
<path d="M2885.8 1098.1L2975.5 1098.1" stroke-width="2.2"/>
<path d="M2905 1100L2963 1100" stroke-width="1.22"/>
<path d="M3328.4 704.1L2985.5 704.1L2985.5 1069.2L3328.4 1069.2" stroke-width="2.0"/>
<path d="M3325 712.6L2995.2 712.6L2995.2 1060.2L3325 1060.2" stroke-width="1.6"/>
<path d="M2985.5 704.1L2995.2 712.6"/>
<path d="M2985.5 1069.2L2995.2 1060.2"/>
<path d="M2988 706L2988 1067" stroke-width="1.42"/>
<path d="M3325 739.8L3022 739.8L3022 1035L3325 1035" stroke-width="2.0"/>
<path d="M3325 752.6L3034 752.6L3034 1022.4L3325 1022.4" stroke-width="1.7"/>
<path d="M2985.5 733 q-3 4 0 8" stroke-width="1.52"/>
<path d="M2985.5 881 q-3 4 0 8" stroke-width="1.52"/>
<path d="M2985.5 1006 q-3 4 0 8" stroke-width="1.52"/>
<path d="M2985.5 1029 q-3 4 0 8" stroke-width="1.52"/>
<path d="M2978 1006q4 4 2 12M2976 1020q5 3 6 10" stroke-width="1.42"/>
<path d="M3036.6 704 q1 -3 4 -3 h2 q3 0 4 3" stroke-width="1.4"/>
<path d="M3036.6 1069.2 q1 3 4 3 h2 q3 0 4 -3" stroke-width="1.4"/>
<path d="M3165.8 704 q1 -3 4 -3 h2 q3 0 4 3" stroke-width="1.4"/>
<path d="M3165.8 1069.2 q1 3 4 3 h2 q3 0 4 -3" stroke-width="1.4"/>
<path d="M3324.8 704L3324.8 1069" stroke-width="1.4"/>
<path d="M3327.4 704L3327.4 1075" stroke-width="2.8" stroke="#1a1a1a"/>
<path d="M3331.8 688L3331.8 1090" stroke-width="1.42"/>
<path d="M3335.3 688L3335.3 1090" stroke-width="1.52"/>
<path d="M3338.6 688L3338.6 1090" stroke-width="1.42"/>
<path d="M3341.4 688L3341.4 1090" stroke-width="1.52"/>
<path d="M3345.4 688L3345.4 1098" stroke-width="1.6"/>
<path d="M3332.8 1020L3332.8 1050" stroke-width="1.22"/>
<rect x="2975.6" y="688.6" width="8" height="3.8" stroke-width="1.42"/>
<rect x="3075.5" y="688.6" width="8" height="3.8" stroke-width="1.42"/>
<rect x="3101.1" y="688.6" width="8" height="3.8" stroke-width="1.42"/>
<path d="M2989.5 688L2989.5 693.8L3052.7 693.8L3052.7 688" stroke-width="1.52"/>
<path d="M2994 688L2994 693.8" stroke-width="1.22"/>
<path d="M3026 688L3026 693.8" stroke-width="1.22"/>
<path d="M3029 688L3029 693.8" stroke-width="1.22"/>
<path d="M3049 688L3049 693.8" stroke-width="1.22"/>
<rect x="3019.4" y="693.8" width="46" height="4.2" stroke-width="1.52"/>
<rect x="2993" y="694.4" width="7.3" height="3.6" stroke-width="1.32"/>
<rect x="3005.2" y="694.4" width="12.2" height="3.6" stroke-width="1.32"/>
<path d="M3011 694.4L3011 698" stroke-width="1.22"/>
<path d="M3020.4 698L3020.4 703.6" stroke-width="1.32"/>
<path d="M3029.5 698L3029.5 703.6" stroke-width="1.32"/>
<path d="M3286.8 688L3286.8 704" stroke-width="1.52"/>
<path d="M3290.9 688L3290.9 704" stroke-width="1.52"/>
<rect x="3296" y="689" width="31" height="7" stroke-width="1.32"/>
<rect x="3306" y="689" width="16" height="12" stroke-width="1.32"/>
<path d="M3314 689L3314 704" stroke-width="1.22"/>
<path d="M3292 696.4L3327 696.4" stroke-width="1.22"/>
<path d="M3293 704q1 -3.4 4 -3.4h1q3 0 4 3.4M3307 704q2 -5 7 -5q5 0 7 5" stroke-width="1.52"/>
<path d="M2975.5 1093.5L3345.4 1093.5" stroke-width="1.5"/>
<path d="M2975.5 1098.1L3345.4 1098.1" stroke-width="1.8"/>
<path d="M2990 1100.6L3287 1100.6" stroke-width="1.22"/>
<rect x="3011.3" y="1074.3" width="45.4" height="3.7" stroke-width="1.52"/>
<rect x="2977" y="1081.4" width="65.6" height="6" stroke-width="1.52"/>
<path d="M2988 1081.4L2988 1087.4" stroke-width="1.22"/>
<path d="M3019 1078L3019 1087.4" stroke-width="1.22"/>
<path d="M3035 1078L3035 1087.4" stroke-width="1.22"/>
<rect x="2987" y="1076" width="12" height="5.4" stroke-width="1.32"/>
<rect x="2997" y="1074.3" width="12" height="3.7" stroke-width="1.32"/>
<path d="M3011.3 1069.5L3011.3 1074.3" stroke-width="1.32"/>
<path d="M3020.4 1069.5L3020.4 1074.3" stroke-width="1.32"/>
<path d="M3286.8 1070.3L3286.8 1349.6" stroke-width="1.5"/>
<path d="M3291.9 1070.3L3291.9 1349.6" stroke-width="1.4"/>
<rect x="3293" y="1081" width="37" height="12" stroke-width="1.32"/>
<rect x="3303" y="1075" width="21" height="9" stroke-width="1.32"/>
<rect x="3306" y="1087" width="16" height="4.6" stroke-width="1.32"/>
<path d="M3296 1069.4q1 3 4 3h1q3 0 4 -3M3309 1069.4q2 4 6 4q4 0 6 -4" stroke-width="1.52"/>
<path d="M3294 1090.6L3336 1090.6" stroke-width="1.22"/>
<circle cx="3367" cy="1059.6" r="4.5" stroke-width="1.8"/>
<path d="M3362.6 1058.2H3345.4L3332.2 1071.8H3314M3362.6 1061.2H3347.4L3334 1074.8H3314" stroke-width="1.52"/>
<path d="M3322 1086.4H3355.5V1089H3327L3322 1091" stroke-width="1.52"/>
<rect x="2943.7" y="1098.5" width="45.4" height="3.3" stroke-width="1.42"/>
<path d="M2960.2 1101.8L2963.3 1114.6L2969.3 1114.6L2971.5 1101.8" stroke-width="1.52"/>
<path d="M2960.8 1104.4L2971 1104.4" stroke-width="1.22"/>
<rect x="3328.2" y="1098.6" width="5" height="3" stroke-width="1.22"/>
<path d="M2964.7 1114.6L2964.7 1251.8" stroke-width="1.5"/>
<path d="M2968.6 1114.6L2968.6 1305.2L2981.7 1318.8" stroke-width="1.4"/>
<rect x="3292.9" y="1098.6" width="35.2" height="137.8" stroke-width="1.4"/>
<path d="M3292.9 1236.4L3328.1 1236.4" stroke-width="2.2" stroke="#222"/>
<path d="M3327.2 1098.6L3327.2 1236.4" stroke-width="1.22"/>
<path d="M3291.9 1122 q2.6 4 0 8" stroke-width="1.32"/>
<path d="M3291.9 1209 q2.6 4 0 8" stroke-width="1.32"/>
<path d="M3291.9 1244 q2.6 4 0 8" stroke-width="1.32"/>
<rect x="3129.4" y="1109.8" width="14.1" height="3.8" stroke-width="1.42"/>
<rect x="3129.4" y="1235.6" width="14.1" height="3.8" stroke-width="1.42"/>
<rect x="2981.2" y="1147" width="3.6" height="13.6" stroke-width="1.42"/>
<rect x="2981.2" y="1272" width="3.6" height="13.6" stroke-width="1.42"/>
<circle cx="3007" cy="1294.9" r="2" stroke-width="1.32"/>
<circle cx="3252.7" cy="1294.9" r="2" stroke-width="1.32"/>
<rect x="2976.7" y="1319.5" width="48.1" height="6.5" stroke-width="1.4"/>
<path d="M2989.5 1319.5L2989.5 1326" stroke-width="1.22"/>
<rect x="3247.4" y="1319.5" width="48.4" height="6.5" stroke-width="1.4"/>
<path d="M3283 1319.5L3283 1326" stroke-width="1.22"/>
<path d="M3024.8 1326V1345.5Q3024.8 1349.8 3028.5 1349.8H3063Q3066.9 1349.8 3066.9 1345.8V1277.4A26.2 26.2 0 0 1 3093.1 1251.2H3180.2A26.2 26.2 0 0 1 3206.4 1277.4V1345.8Q3206.4 1349.8 3210 1349.8H3243.6Q3247.4 1349.8 3247.4 1345.5V1326" stroke-width="1.6"/>
<path d="M3066.9 1323.5Q3067.4 1319.5 3071 1319.5H3202.5Q3206 1319.5 3206.4 1323.5" stroke-width="1.4"/>
<path d="M2981.7 1349.8L3024.8 1349.8" stroke-width="1.4"/>
<path d="M3247.4 1349.8L3291.9 1349.8" stroke-width="1.4"/>
<path d="M2981.7 1326L2981.7 1349.8" stroke-width="1.52"/>
<path d="M2984.7 1326L2984.7 1349.8" stroke-width="1.32"/>
<path d="M3093 1252L3093 1304.3L3196.9 1304.3L3196.9 1265" stroke-width="1.4"/>
<path d="M3130.1 1251.2L3135.2 1257.7L3121.8 1275.6L3121.8 1304.3" stroke-width="1.8" stroke="#222"/>
<path d="M3002.5 1326L3002.5 1335" stroke-width="1.42"/>
<path d="M3008.5 1326L3008.5 1335" stroke-width="1.42"/>
<rect x="3000" y="1335" width="11" height="4.5" stroke-width="1.32"/>
<path d="M3000.5 1339.5L2989.5 1348.8L3021.5 1348.8L3010.5 1339.5" stroke-width="1.52"/>
<path d="M2996.5 1343L3014.5 1343" stroke-width="1.22"/>
<path d="M3263.7 1326L3263.7 1335" stroke-width="1.42"/>
<path d="M3269.7 1326L3269.7 1335" stroke-width="1.42"/>
<rect x="3261.2" y="1335" width="11" height="4.5" stroke-width="1.32"/>
<path d="M3261.7 1339.5L3250.7 1348.8L3282.7 1348.8L3271.7 1339.5" stroke-width="1.52"/>
<path d="M3257.7 1343L3275.7 1343" stroke-width="1.22"/>
</g>
<g id="p_title">
<clipPath id="cpt"><rect x="0" y="2286.0" width="700" height="77.80000000000018"/></clipPath>
<g stroke="#151515" stroke-width="5.8" fill="none" stroke-linejoin="miter" stroke-miterlimit="10">
<g clip-path="url(#cpt)">
<path d="M8.2 2283L36.2 2361.6L64.2 2283"/>
<path d="M81.9 2366V2286M81.9 2283L132.9 2366.8M132.9 2366V2280"/>
<path d="M161.1 2280V2360.9H200.9"/>
<path d="M236.3 2283L207.0 2366.8"/>
<path d="M458.9 2283L429.6 2366.8"/>
<path d="M336.1 2280V2370M314.2 2306.6L336.6 2288.2"/>
<path d="M508 2280V2370M465.4 2341.9H523.7M468.6 2341L507 2286.4"/>
</g>
<path d="M290.2 2289.6C264 2283.5 250.1 2306 250.1 2336C250.1 2352 259 2362.1 272 2362.1C285 2362.1 294.1 2353 294.1 2341C294.1 2329 285.5 2319.8 273 2319.8C262 2319.8 253 2327 250.6 2338"/>
<ellipse cx="394.95" cy="2325.05" rx="22.05" ry="37.05"/>
<ellipse cx="618.8" cy="2325.05" rx="22.4" ry="37.05"/>
<path d="M532.2 2296.4C540 2290.6 547 2288 554 2288C567 2288 574.6 2294 574.6 2303.5C574.6 2314.5 565 2322 546.5 2322C566 2322 576.5 2330 576.5 2342.5C576.5 2355 566 2362.1 551 2362.1C543 2362.1 536 2360.6 530.6 2357.4"/>
</g>
</g>
</g>
</svg>
</body></html>
